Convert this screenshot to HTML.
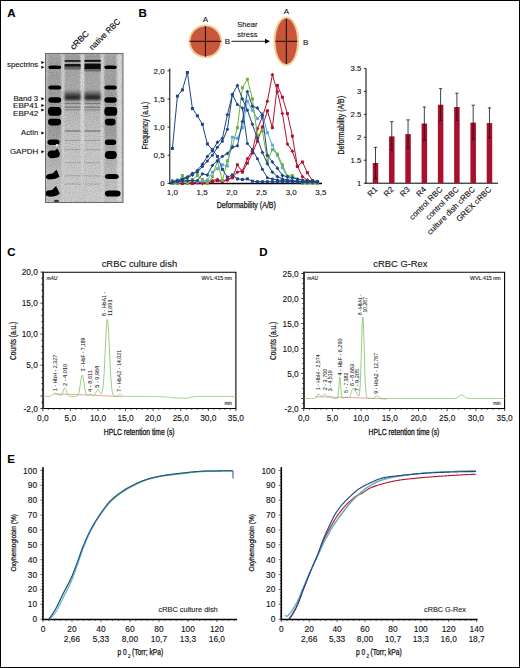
<!DOCTYPE html>
<html><head><meta charset="utf-8"><title>Figure</title>
<style>
html,body{margin:0;padding:0;background:#fff;}
#fig{position:relative;width:520px;height:668px;box-sizing:border-box;border:1px solid #000;overflow:hidden;background:#fff;}
svg{position:absolute;left:-1px;top:-1px;font-family:"Liberation Sans", sans-serif;}
</style></head>
<body><div id="fig">
<svg width="520" height="668" viewBox="0 0 520 668">
<defs>
<filter id="b1" x="-20%" y="-5%" width="140%" height="110%"><feGaussianBlur stdDeviation="0.8"/></filter>
<filter id="b2" x="-30%" y="-60%" width="160%" height="220%"><feGaussianBlur stdDeviation="0.55"/></filter>
<filter id="noise" x="0" y="0" width="100%" height="100%"><feTurbulence type="fractalNoise" baseFrequency="0.9" numOctaves="2" seed="3"/><feColorMatrix type="matrix" values="0 0 0 0 0  0 0 0 0 0  0 0 0 0 0  0 0 0 -1.6 1.0"/><feComposite in2="SourceGraphic" operator="in"/></filter>
<linearGradient id="ladg" x1="0" y1="0" x2="0" y2="1"><stop offset="0" stop-color="#a8a8a8"/><stop offset="0.5" stop-color="#a0a0a0"/><stop offset="0.66" stop-color="#b0b0b0"/><stop offset="0.8" stop-color="#c0c0c0"/><stop offset="1" stop-color="#c8c8c8"/></linearGradient>
<linearGradient id="laneg" x1="0" y1="0" x2="0" y2="1"><stop offset="0" stop-color="#a0a0a0"/><stop offset="0.08" stop-color="#a8a8a8"/><stop offset="0.25" stop-color="#b0b0b0"/><stop offset="0.4" stop-color="#bebebe"/><stop offset="0.6" stop-color="#cacaca"/><stop offset="1" stop-color="#d2d2d2"/></linearGradient>
<linearGradient id="stripg" x1="0" y1="0" x2="0" y2="1"><stop offset="0" stop-color="#e6e6e6"/><stop offset="0.6" stop-color="#e2e2e2"/><stop offset="1" stop-color="#d0d0d0"/></linearGradient>
<linearGradient id="b3g" x1="0" y1="0" x2="0" y2="1"><stop offset="0" stop-color="#a0a0a0" stop-opacity="0"/><stop offset="0.35" stop-color="#707070"/><stop offset="0.6" stop-color="#303030"/><stop offset="0.82" stop-color="#262626"/><stop offset="1" stop-color="#909090" stop-opacity="0.2"/></linearGradient>
</defs>
<text x="7.20" y="17.00" font-size="11.5" text-anchor="start" stroke="#000" stroke-width="0.12" font-weight="bold" >A</text>
<text x="138.40" y="17.00" font-size="11.5" text-anchor="start" stroke="#000" stroke-width="0.12" font-weight="bold" >B</text>
<text x="7.20" y="256.30" font-size="11.5" text-anchor="start" stroke="#000" stroke-width="0.12" font-weight="bold" >C</text>
<text x="259.30" y="256.30" font-size="11.5" text-anchor="start" stroke="#000" stroke-width="0.12" font-weight="bold" >D</text>
<text x="7.20" y="462.50" font-size="11.5" text-anchor="start" stroke="#000" stroke-width="0.12" font-weight="bold" >E</text>
<g>
<rect x="45.5" y="53.5" width="77.5" height="149" fill="#c4c4c4"/>
<rect x="47.6" y="54" width="14" height="148" fill="url(#ladg)" filter="url(#b1)"/>
<rect x="104" y="54" width="13" height="148" fill="url(#ladg)" filter="url(#b1)"/>
<rect x="64.3" y="54" width="16.2" height="148" fill="url(#laneg)" filter="url(#b1)"/>
<rect x="84.2" y="54" width="16.5" height="148" fill="url(#laneg)" filter="url(#b1)"/>
<rect x="61.9" y="54" width="2.2" height="148" fill="#dcdcdc" filter="url(#b1)"/>
<rect x="80.8" y="54" width="3.0" height="148" fill="url(#stripg)" filter="url(#b1)"/>
<rect x="100.9" y="54" width="2.6" height="148" fill="#dedede" filter="url(#b1)"/>
<rect x="117.3" y="54" width="4.5" height="148" fill="#dedede" filter="url(#b1)"/>
<rect x="48.3" y="65.40" width="12.90" height="3.6" rx="3" ry="1.80" fill="#030303" filter="url(#b2)"/>
<rect x="104.3" y="65.40" width="12.50" height="3.6" rx="3" ry="1.80" fill="#030303" filter="url(#b2)"/>
<rect x="48.3" y="85.40" width="12.90" height="4.0" rx="3" ry="2.00" fill="#030303" filter="url(#b2)"/>
<rect x="104.3" y="85.40" width="12.50" height="4.0" rx="3" ry="2.00" fill="#030303" filter="url(#b2)"/>
<rect x="48.3" y="97.30" width="12.90" height="5.4" rx="3" ry="2.70" fill="#030303" filter="url(#b2)"/>
<rect x="104.3" y="97.30" width="12.50" height="5.4" rx="3" ry="2.70" fill="#030303" filter="url(#b2)"/>
<rect x="48.0" y="107.10" width="13.40" height="8.6" rx="3" ry="4.30" fill="#030303" filter="url(#b2)"/>
<rect x="104.3" y="107.10" width="12.90" height="8.6" rx="3" ry="4.30" fill="#030303" filter="url(#b2)"/>
<rect x="48.0" y="118.80" width="13.00" height="6.6" rx="3" ry="3.30" fill="#030303" filter="url(#b2)"/>
<rect x="104.9" y="118.80" width="10.70" height="6.6" rx="3" ry="3.30" fill="#030303" filter="url(#b2)"/>
<rect x="47.5" y="139.60" width="12.00" height="5.4" rx="3" ry="2.70" fill="#030303" filter="url(#b2)"/>
<rect x="104.9" y="139.60" width="11.30" height="5.4" rx="3" ry="2.70" fill="#030303" filter="url(#b2)"/>
<rect x="104.9" y="150.90" width="12.00" height="8.0" rx="4" ry="4.00" fill="#030303" filter="url(#b2)"/>
<rect x="104.9" y="174.10" width="13.90" height="5.0" rx="4" ry="2.50" fill="#030303" filter="url(#b2)"/>
<rect x="104.9" y="190.40" width="15.70" height="6.2" rx="4" ry="3.10" fill="#030303" filter="url(#b2)"/>
<path d="M50,150.5 L55,150.5 L57.4,148.6 L60,153.5 L59,157 Q55,158.6 50,158 Q47.2,156.5 47.5,154 Q48,151 50,150.5 Z" fill="#030303" filter="url(#b2)"/>
<path d="M48,174.3 L52.5,173.5 L56.5,169.7 L59.6,176.8 Q56,179.4 50,179.5 Q46,179 45.9,177 Q46.2,175 48,174.3 Z" fill="#030303" filter="url(#b2)"/>
<path d="M47.5,190.5 L52,190 L56,186 L59.8,193.4 Q56,196.6 50,196.7 Q45.6,196.4 45.4,193.8 Q45.8,191.2 47.5,190.5 Z" fill="#030303" filter="url(#b2)"/>
<ellipse cx="56.5" cy="201" rx="2.5" ry="1.3" fill="#333" filter="url(#b2)"/>
<circle cx="56.9" cy="145.2" r="1.3" fill="#f4f4f4" filter="url(#b2)"/>
<rect x="64.6" y="60.1" width="16" height="1.7" fill="#1a1a1a" filter="url(#b2)"/>
<rect x="64.6" y="64.0" width="16" height="3.2" fill="#141414" filter="url(#b2)"/>
<rect x="64.6" y="66.5" width="16" height="3.0" fill="#6a6a6a" filter="url(#b2)"/>
<rect x="84.5" y="59.9" width="16.2" height="1.9" fill="#0a0a0a" filter="url(#b2)"/>
<rect x="84.5" y="63.6" width="16.2" height="6.2" fill="#080808" filter="url(#b2)"/>
<rect x="84.5" y="69" width="16.2" height="2.5" fill="#707070" filter="url(#b2)"/>
<rect x="64.6" y="88.5" width="16" height="13" fill="url(#b3g)" filter="url(#b1)"/>
<rect x="84.5" y="88.5" width="16.2" height="13" fill="url(#b3g)" filter="url(#b1)"/>
<rect x="64.6" y="102.85" width="16" height="1.3" fill="#7e7e7e" opacity="1" filter="url(#b2)"/>
<rect x="84.5" y="102.85" width="16" height="1.3" fill="#7e7e7e" opacity="1" filter="url(#b2)"/>
<rect x="64.6" y="106.55" width="16" height="1.3" fill="#7e7e7e" opacity="1" filter="url(#b2)"/>
<rect x="84.5" y="106.55" width="16" height="1.3" fill="#7e7e7e" opacity="1" filter="url(#b2)"/>
<rect x="64.6" y="109.15" width="16" height="1.3" fill="#939393" opacity="1" filter="url(#b2)"/>
<rect x="84.5" y="109.15" width="16" height="1.3" fill="#939393" opacity="1" filter="url(#b2)"/>
<rect x="64.6" y="130.45" width="16" height="1.1" fill="#6e6e6e" opacity="1" filter="url(#b2)"/>
<rect x="84.5" y="130.45" width="16" height="1.1" fill="#6e6e6e" opacity="1" filter="url(#b2)"/>
<rect x="64.6" y="139.95" width="16" height="0.9" fill="#a0a0a0" opacity="1" filter="url(#b2)"/>
<rect x="84.5" y="139.95" width="16" height="0.9" fill="#a0a0a0" opacity="1" filter="url(#b2)"/>
<rect x="64.6" y="149.15" width="16" height="0.9" fill="#a4a4a4" opacity="1" filter="url(#b2)"/>
<rect x="84.5" y="149.15" width="16" height="0.9" fill="#a4a4a4" opacity="1" filter="url(#b2)"/>
<rect x="64.6" y="162.25" width="16" height="0.9" fill="#a8a8a8" opacity="1" filter="url(#b2)"/>
<rect x="84.5" y="162.25" width="16" height="0.9" fill="#a8a8a8" opacity="1" filter="url(#b2)"/>
<rect x="64.6" y="175.35" width="16" height="0.9" fill="#acacac" opacity="1" filter="url(#b2)"/>
<rect x="84.5" y="175.35" width="16" height="0.9" fill="#acacac" opacity="1" filter="url(#b2)"/>
<rect x="64.6" y="183.55" width="16" height="0.9" fill="#a8a8a8" opacity="1" filter="url(#b2)"/>
<rect x="84.5" y="183.55" width="16" height="0.9" fill="#a8a8a8" opacity="1" filter="url(#b2)"/>
<rect x="45.5" y="53.5" width="77.5" height="149" filter="url(#noise)" opacity="0.22"/>
<rect x="45.5" y="53.5" width="77.5" height="149" fill="none" stroke="#6a6a6a" stroke-width="1"/>
</g>
<text x="38.20" y="67.30" font-size="8" text-anchor="end" stroke="#111" stroke-width="0.12" fill="#111" textLength="31.2" lengthAdjust="spacingAndGlyphs" >spectrins</text>
<text x="38.20" y="100.70" font-size="8" text-anchor="end" stroke="#111" stroke-width="0.12" fill="#111" textLength="24.8" lengthAdjust="spacingAndGlyphs" >Band 3</text>
<text x="38.20" y="108.00" font-size="8" text-anchor="end" stroke="#111" stroke-width="0.12" fill="#111" textLength="25.2" lengthAdjust="spacingAndGlyphs" >EBP41</text>
<text x="38.20" y="115.70" font-size="8" text-anchor="end" stroke="#111" stroke-width="0.12" fill="#111" textLength="25.2" lengthAdjust="spacingAndGlyphs" >EBP42</text>
<text x="38.20" y="134.80" font-size="8" text-anchor="end" stroke="#111" stroke-width="0.12" fill="#111" textLength="17.1" lengthAdjust="spacingAndGlyphs" >Actin</text>
<text x="38.20" y="153.60" font-size="8" text-anchor="end" stroke="#111" stroke-width="0.12" fill="#111" textLength="28.3" lengthAdjust="spacingAndGlyphs" >GAPDH</text>
<path d="M41.3,61.0 L44.5,62.5 L41.3,64.0 Z" fill="#000"/>
<path d="M41.3,65.7 L44.5,67.2 L41.3,68.7 Z" fill="#000"/>
<path d="M41.3,97.2 L44.5,98.7 L41.3,100.2 Z" fill="#000"/>
<path d="M41.3,104.1 L44.5,105.6 L41.3,107.1 Z" fill="#000"/>
<path d="M41.3,108.5 L44.5,110.0 L41.3,111.5 Z" fill="#000"/>
<path d="M41.3,131.4 L44.5,132.9 L41.3,134.4 Z" fill="#000"/>
<path d="M41.3,150.2 L44.5,151.7 L41.3,153.2 Z" fill="#000"/>
<text x="73.40" y="50.30" font-size="8.4" text-anchor="start" stroke="#000" stroke-width="0.12" textLength="22.8" lengthAdjust="spacingAndGlyphs" transform="rotate(-45 73.40 50.30)" >cRBC</text>
<text x="92.50" y="50.60" font-size="8.4" text-anchor="start" stroke="#000" stroke-width="0.12" textLength="40.2" lengthAdjust="spacingAndGlyphs" transform="rotate(-45 92.50 50.60)" >native RBC</text>
<circle cx="205.4" cy="41.3" r="16.8" fill="#f3d09a"/>
<circle cx="205.4" cy="41.3" r="14.9" fill="#c9553a"/>
<line x1="205.40" y1="26.00" x2="205.40" y2="56.80" stroke="#1a0a05" stroke-width="1" />
<line x1="189.50" y1="41.30" x2="221.30" y2="41.30" stroke="#1a0a05" stroke-width="1" />
<ellipse cx="286.3" cy="41.3" rx="12.9" ry="24.7" fill="#f3d09a"/>
<ellipse cx="286.3" cy="41.3" rx="10.8" ry="22.8" fill="#c9553a"/>
<line x1="286.30" y1="18.50" x2="286.30" y2="64.20" stroke="#1a0a05" stroke-width="1" />
<line x1="275.30" y1="41.30" x2="297.30" y2="41.30" stroke="#1a0a05" stroke-width="1" />
<text x="205.40" y="22.40" font-size="8" text-anchor="middle" stroke="#111" stroke-width="0.12" fill="#111" >A</text>
<text x="227.40" y="44.40" font-size="8" text-anchor="middle" stroke="#111" stroke-width="0.12" fill="#111" >B</text>
<text x="286.30" y="13.90" font-size="8" text-anchor="middle" stroke="#111" stroke-width="0.12" fill="#111" >A</text>
<text x="305.60" y="44.60" font-size="8" text-anchor="middle" stroke="#111" stroke-width="0.12" fill="#111" >B</text>
<text x="247.40" y="27.00" font-size="8" text-anchor="middle" stroke="#111" stroke-width="0.12" fill="#111" textLength="20.2" lengthAdjust="spacingAndGlyphs" >Shear</text>
<text x="247.40" y="36.60" font-size="8" text-anchor="middle" stroke="#111" stroke-width="0.12" fill="#111" textLength="20.2" lengthAdjust="spacingAndGlyphs" >stress</text>
<line x1="231.50" y1="41.30" x2="266.00" y2="41.30" stroke="#000" stroke-width="0.9" />
<path d="M265,38.8 L270,41.3 L265,43.8 Z" fill="#000"/>
<line x1="169.80" y1="68.50" x2="169.80" y2="184.00" stroke="#000" stroke-width="1" />
<line x1="169.30" y1="183.50" x2="322.00" y2="183.50" stroke="#000" stroke-width="1.3" />
<line x1="167.50" y1="183.40" x2="169.80" y2="183.40" stroke="#000" stroke-width="0.8" />
<text x="164.60" y="186.20" font-size="8" text-anchor="end" stroke="#111" stroke-width="0.12" fill="#111" >0</text>
<line x1="167.50" y1="155.25" x2="169.80" y2="155.25" stroke="#000" stroke-width="0.8" />
<text x="164.60" y="158.05" font-size="8" text-anchor="end" stroke="#111" stroke-width="0.12" fill="#111" >0,5</text>
<line x1="167.50" y1="127.10" x2="169.80" y2="127.10" stroke="#000" stroke-width="0.8" />
<text x="164.60" y="129.90" font-size="8" text-anchor="end" stroke="#111" stroke-width="0.12" fill="#111" >1,0</text>
<line x1="167.50" y1="98.95" x2="169.80" y2="98.95" stroke="#000" stroke-width="0.8" />
<text x="164.60" y="101.75" font-size="8" text-anchor="end" stroke="#111" stroke-width="0.12" fill="#111" >1,5</text>
<line x1="167.50" y1="70.80" x2="169.80" y2="70.80" stroke="#000" stroke-width="0.8" />
<text x="164.60" y="73.60" font-size="8" text-anchor="end" stroke="#111" stroke-width="0.12" fill="#111" >2,0</text>
<text x="172.40" y="194.80" font-size="8" text-anchor="middle" stroke="#111" stroke-width="0.12" fill="#111" >1,0</text>
<text x="202.10" y="194.80" font-size="8" text-anchor="middle" stroke="#111" stroke-width="0.12" fill="#111" >1,5</text>
<text x="231.80" y="194.80" font-size="8" text-anchor="middle" stroke="#111" stroke-width="0.12" fill="#111" >2,0</text>
<text x="261.50" y="194.80" font-size="8" text-anchor="middle" stroke="#111" stroke-width="0.12" fill="#111" >2,5</text>
<text x="291.20" y="194.80" font-size="8" text-anchor="middle" stroke="#111" stroke-width="0.12" fill="#111" >3,0</text>
<text x="320.90" y="194.80" font-size="8" text-anchor="middle" stroke="#111" stroke-width="0.12" fill="#111" >3,5</text>
<text x="246.30" y="208.40" font-size="8.2" text-anchor="middle" stroke="#111" stroke-width="0.25" fill="#111" textLength="59.3" lengthAdjust="spacingAndGlyphs" >Deformability (A/B)</text>
<text x="147.90" y="125.60" font-size="8.2" text-anchor="middle" stroke="#111" stroke-width="0.22" fill="#111" textLength="47.7" lengthAdjust="spacingAndGlyphs" transform="rotate(-90 147.90 125.60)" >Frequency (a.u.)</text>
<polyline points="172.40,183.40 177.40,183.40 182.40,183.40 187.40,183.40 192.40,183.40 197.40,182.27 202.40,182.27 207.40,182.84 212.40,181.71 217.40,180.59 222.40,181.71 227.40,180.02 232.40,177.77 237.40,164.82 242.40,172.14 247.40,163.13 252.40,153.00 257.40,141.18 262.40,127.10 267.40,110.77 272.40,127.66 277.40,85.44 282.40,97.26 287.40,113.59 292.40,136.11 297.40,166.51 302.40,162.01 307.40,172.70 312.40,180.59 317.40,181.71" fill="none" stroke="#b0122e" stroke-width="1.0" stroke-linejoin="round" />
<rect x="170.90" y="181.90" width="3.0" height="3.0" fill="#b0122e"/>
<rect x="175.90" y="181.90" width="3.0" height="3.0" fill="#b0122e"/>
<rect x="180.90" y="181.90" width="3.0" height="3.0" fill="#b0122e"/>
<rect x="185.90" y="181.90" width="3.0" height="3.0" fill="#b0122e"/>
<rect x="190.90" y="181.90" width="3.0" height="3.0" fill="#b0122e"/>
<rect x="195.90" y="180.77" width="3.0" height="3.0" fill="#b0122e"/>
<rect x="200.90" y="180.77" width="3.0" height="3.0" fill="#b0122e"/>
<rect x="205.90" y="181.34" width="3.0" height="3.0" fill="#b0122e"/>
<rect x="210.90" y="180.21" width="3.0" height="3.0" fill="#b0122e"/>
<rect x="215.90" y="179.09" width="3.0" height="3.0" fill="#b0122e"/>
<rect x="220.90" y="180.21" width="3.0" height="3.0" fill="#b0122e"/>
<rect x="225.90" y="178.52" width="3.0" height="3.0" fill="#b0122e"/>
<rect x="230.90" y="176.27" width="3.0" height="3.0" fill="#b0122e"/>
<rect x="235.90" y="163.32" width="3.0" height="3.0" fill="#b0122e"/>
<rect x="240.90" y="170.64" width="3.0" height="3.0" fill="#b0122e"/>
<rect x="245.90" y="161.63" width="3.0" height="3.0" fill="#b0122e"/>
<rect x="250.90" y="151.50" width="3.0" height="3.0" fill="#b0122e"/>
<rect x="255.90" y="139.68" width="3.0" height="3.0" fill="#b0122e"/>
<rect x="260.90" y="125.60" width="3.0" height="3.0" fill="#b0122e"/>
<rect x="265.90" y="109.27" width="3.0" height="3.0" fill="#b0122e"/>
<rect x="270.90" y="126.16" width="3.0" height="3.0" fill="#b0122e"/>
<rect x="275.90" y="83.94" width="3.0" height="3.0" fill="#b0122e"/>
<rect x="280.90" y="95.76" width="3.0" height="3.0" fill="#b0122e"/>
<rect x="285.90" y="112.09" width="3.0" height="3.0" fill="#b0122e"/>
<rect x="290.90" y="134.61" width="3.0" height="3.0" fill="#b0122e"/>
<rect x="295.90" y="165.01" width="3.0" height="3.0" fill="#b0122e"/>
<rect x="300.90" y="160.51" width="3.0" height="3.0" fill="#b0122e"/>
<rect x="305.90" y="171.20" width="3.0" height="3.0" fill="#b0122e"/>
<rect x="310.90" y="179.09" width="3.0" height="3.0" fill="#b0122e"/>
<rect x="315.90" y="180.21" width="3.0" height="3.0" fill="#b0122e"/>
<polyline points="172.40,183.40 177.40,183.40 182.40,183.40 187.40,183.40 192.40,182.84 197.40,182.84 202.40,183.40 207.40,183.40 212.40,180.59 217.40,179.46 222.40,181.15 227.40,179.46 232.40,177.21 237.40,172.14 242.40,171.01 247.40,158.63 252.40,151.31 257.40,128.79 262.40,116.97 267.40,101.20 272.40,74.74 277.40,91.63 282.40,113.59 287.40,143.99 292.40,151.31 297.40,165.95 302.40,176.64 307.40,180.02 312.40,181.71 317.40,182.27" fill="none" stroke="#b0122e" stroke-width="1.0" stroke-linejoin="round" />
<path d="M172.40,181.45 L174.35,183.40 L172.40,185.35 L170.45,183.40 Z" fill="#b0122e"/>
<path d="M177.40,181.45 L179.35,183.40 L177.40,185.35 L175.45,183.40 Z" fill="#b0122e"/>
<path d="M182.40,181.45 L184.35,183.40 L182.40,185.35 L180.45,183.40 Z" fill="#b0122e"/>
<path d="M187.40,181.45 L189.35,183.40 L187.40,185.35 L185.45,183.40 Z" fill="#b0122e"/>
<path d="M192.40,180.89 L194.35,182.84 L192.40,184.79 L190.45,182.84 Z" fill="#b0122e"/>
<path d="M197.40,180.89 L199.35,182.84 L197.40,184.79 L195.45,182.84 Z" fill="#b0122e"/>
<path d="M202.40,181.45 L204.35,183.40 L202.40,185.35 L200.45,183.40 Z" fill="#b0122e"/>
<path d="M207.40,181.45 L209.35,183.40 L207.40,185.35 L205.45,183.40 Z" fill="#b0122e"/>
<path d="M212.40,178.64 L214.35,180.59 L212.40,182.53 L210.45,180.59 Z" fill="#b0122e"/>
<path d="M217.40,177.51 L219.35,179.46 L217.40,181.41 L215.45,179.46 Z" fill="#b0122e"/>
<path d="M222.40,179.20 L224.35,181.15 L222.40,183.10 L220.45,181.15 Z" fill="#b0122e"/>
<path d="M227.40,177.51 L229.35,179.46 L227.40,181.41 L225.45,179.46 Z" fill="#b0122e"/>
<path d="M232.40,175.26 L234.35,177.21 L232.40,179.16 L230.45,177.21 Z" fill="#b0122e"/>
<path d="M237.40,170.19 L239.35,172.14 L237.40,174.09 L235.45,172.14 Z" fill="#b0122e"/>
<path d="M242.40,169.06 L244.35,171.01 L242.40,172.96 L240.45,171.01 Z" fill="#b0122e"/>
<path d="M247.40,156.68 L249.35,158.63 L247.40,160.58 L245.45,158.63 Z" fill="#b0122e"/>
<path d="M252.40,149.36 L254.35,151.31 L252.40,153.26 L250.45,151.31 Z" fill="#b0122e"/>
<path d="M257.40,126.84 L259.35,128.79 L257.40,130.74 L255.45,128.79 Z" fill="#b0122e"/>
<path d="M262.40,115.02 L264.35,116.97 L262.40,118.92 L260.45,116.97 Z" fill="#b0122e"/>
<path d="M267.40,99.25 L269.35,101.20 L267.40,103.15 L265.45,101.20 Z" fill="#b0122e"/>
<path d="M272.40,72.79 L274.35,74.74 L272.40,76.69 L270.45,74.74 Z" fill="#b0122e"/>
<path d="M277.40,89.68 L279.35,91.63 L277.40,93.58 L275.45,91.63 Z" fill="#b0122e"/>
<path d="M282.40,111.64 L284.35,113.59 L282.40,115.54 L280.45,113.59 Z" fill="#b0122e"/>
<path d="M287.40,142.04 L289.35,143.99 L287.40,145.94 L285.45,143.99 Z" fill="#b0122e"/>
<path d="M292.40,149.36 L294.35,151.31 L292.40,153.26 L290.45,151.31 Z" fill="#b0122e"/>
<path d="M297.40,164.00 L299.35,165.95 L297.40,167.90 L295.45,165.95 Z" fill="#b0122e"/>
<path d="M302.40,174.69 L304.35,176.64 L302.40,178.59 L300.45,176.64 Z" fill="#b0122e"/>
<path d="M307.40,178.07 L309.35,180.02 L307.40,181.97 L305.45,180.02 Z" fill="#b0122e"/>
<path d="M312.40,179.76 L314.35,181.71 L312.40,183.66 L310.45,181.71 Z" fill="#b0122e"/>
<path d="M317.40,180.32 L319.35,182.27 L317.40,184.22 L315.45,182.27 Z" fill="#b0122e"/>
<polyline points="172.40,180.59 177.40,180.02 182.40,181.15 187.40,181.71 192.40,180.59 197.40,181.71 202.40,181.15 207.40,180.02 212.40,172.14 217.40,168.76 222.40,164.82 227.40,165.95 232.40,137.23 237.40,138.36 242.40,127.66 247.40,101.20 252.40,110.21 257.40,118.66 262.40,113.59 267.40,132.73 272.40,145.12 277.40,155.25 282.40,167.64 287.40,176.64 292.40,181.15 297.40,181.71 302.40,182.27 307.40,182.27 312.40,182.27 317.40,182.27" fill="none" stroke="#5aa6e0" stroke-width="1.0" stroke-linejoin="round" />
<rect x="170.90" y="179.09" width="3.0" height="3.0" fill="#5aa6e0"/>
<rect x="175.90" y="178.52" width="3.0" height="3.0" fill="#5aa6e0"/>
<rect x="180.90" y="179.65" width="3.0" height="3.0" fill="#5aa6e0"/>
<rect x="185.90" y="180.21" width="3.0" height="3.0" fill="#5aa6e0"/>
<rect x="190.90" y="179.09" width="3.0" height="3.0" fill="#5aa6e0"/>
<rect x="195.90" y="180.21" width="3.0" height="3.0" fill="#5aa6e0"/>
<rect x="200.90" y="179.65" width="3.0" height="3.0" fill="#5aa6e0"/>
<rect x="205.90" y="178.52" width="3.0" height="3.0" fill="#5aa6e0"/>
<rect x="210.90" y="170.64" width="3.0" height="3.0" fill="#5aa6e0"/>
<rect x="215.90" y="167.26" width="3.0" height="3.0" fill="#5aa6e0"/>
<rect x="220.90" y="163.32" width="3.0" height="3.0" fill="#5aa6e0"/>
<rect x="225.90" y="164.45" width="3.0" height="3.0" fill="#5aa6e0"/>
<rect x="230.90" y="135.73" width="3.0" height="3.0" fill="#5aa6e0"/>
<rect x="235.90" y="136.86" width="3.0" height="3.0" fill="#5aa6e0"/>
<rect x="240.90" y="126.16" width="3.0" height="3.0" fill="#5aa6e0"/>
<rect x="245.90" y="99.70" width="3.0" height="3.0" fill="#5aa6e0"/>
<rect x="250.90" y="108.71" width="3.0" height="3.0" fill="#5aa6e0"/>
<rect x="255.90" y="117.16" width="3.0" height="3.0" fill="#5aa6e0"/>
<rect x="260.90" y="112.09" width="3.0" height="3.0" fill="#5aa6e0"/>
<rect x="265.90" y="131.23" width="3.0" height="3.0" fill="#5aa6e0"/>
<rect x="270.90" y="143.62" width="3.0" height="3.0" fill="#5aa6e0"/>
<rect x="275.90" y="153.75" width="3.0" height="3.0" fill="#5aa6e0"/>
<rect x="280.90" y="166.14" width="3.0" height="3.0" fill="#5aa6e0"/>
<rect x="285.90" y="175.14" width="3.0" height="3.0" fill="#5aa6e0"/>
<rect x="290.90" y="179.65" width="3.0" height="3.0" fill="#5aa6e0"/>
<rect x="295.90" y="180.21" width="3.0" height="3.0" fill="#5aa6e0"/>
<rect x="300.90" y="180.77" width="3.0" height="3.0" fill="#5aa6e0"/>
<rect x="305.90" y="180.77" width="3.0" height="3.0" fill="#5aa6e0"/>
<rect x="310.90" y="180.77" width="3.0" height="3.0" fill="#5aa6e0"/>
<rect x="315.90" y="180.77" width="3.0" height="3.0" fill="#5aa6e0"/>
<polyline points="172.40,183.40 177.40,183.40 182.40,175.52 187.40,183.40 192.40,179.46 197.40,175.52 202.40,179.46 207.40,183.40 212.40,176.64 217.40,160.88 222.40,180.59 227.40,160.88 232.40,146.24 237.40,127.66 242.40,87.69 247.40,79.25 252.40,98.95 257.40,135.55 262.40,131.04 267.40,160.88 272.40,149.62 277.40,154.12 282.40,164.82 287.40,176.08 292.40,175.52 297.40,179.46 302.40,183.40 307.40,183.40 312.40,183.40 317.40,183.40" fill="none" stroke="#6bb33a" stroke-width="1.0" stroke-linejoin="round" />
<rect x="170.90" y="181.90" width="3.0" height="3.0" fill="#6bb33a"/>
<rect x="175.90" y="181.90" width="3.0" height="3.0" fill="#6bb33a"/>
<rect x="180.90" y="174.02" width="3.0" height="3.0" fill="#6bb33a"/>
<rect x="185.90" y="181.90" width="3.0" height="3.0" fill="#6bb33a"/>
<rect x="190.90" y="177.96" width="3.0" height="3.0" fill="#6bb33a"/>
<rect x="195.90" y="174.02" width="3.0" height="3.0" fill="#6bb33a"/>
<rect x="200.90" y="177.96" width="3.0" height="3.0" fill="#6bb33a"/>
<rect x="205.90" y="181.90" width="3.0" height="3.0" fill="#6bb33a"/>
<rect x="210.90" y="175.14" width="3.0" height="3.0" fill="#6bb33a"/>
<rect x="215.90" y="159.38" width="3.0" height="3.0" fill="#6bb33a"/>
<rect x="220.90" y="179.09" width="3.0" height="3.0" fill="#6bb33a"/>
<rect x="225.90" y="159.38" width="3.0" height="3.0" fill="#6bb33a"/>
<rect x="230.90" y="144.74" width="3.0" height="3.0" fill="#6bb33a"/>
<rect x="235.90" y="126.16" width="3.0" height="3.0" fill="#6bb33a"/>
<rect x="240.90" y="86.19" width="3.0" height="3.0" fill="#6bb33a"/>
<rect x="245.90" y="77.75" width="3.0" height="3.0" fill="#6bb33a"/>
<rect x="250.90" y="97.45" width="3.0" height="3.0" fill="#6bb33a"/>
<rect x="255.90" y="134.05" width="3.0" height="3.0" fill="#6bb33a"/>
<rect x="260.90" y="129.54" width="3.0" height="3.0" fill="#6bb33a"/>
<rect x="265.90" y="159.38" width="3.0" height="3.0" fill="#6bb33a"/>
<rect x="270.90" y="148.12" width="3.0" height="3.0" fill="#6bb33a"/>
<rect x="275.90" y="152.62" width="3.0" height="3.0" fill="#6bb33a"/>
<rect x="280.90" y="163.32" width="3.0" height="3.0" fill="#6bb33a"/>
<rect x="285.90" y="174.58" width="3.0" height="3.0" fill="#6bb33a"/>
<rect x="290.90" y="174.02" width="3.0" height="3.0" fill="#6bb33a"/>
<rect x="295.90" y="177.96" width="3.0" height="3.0" fill="#6bb33a"/>
<rect x="300.90" y="181.90" width="3.0" height="3.0" fill="#6bb33a"/>
<rect x="305.90" y="181.90" width="3.0" height="3.0" fill="#6bb33a"/>
<rect x="310.90" y="181.90" width="3.0" height="3.0" fill="#6bb33a"/>
<rect x="315.90" y="181.90" width="3.0" height="3.0" fill="#6bb33a"/>
<polyline points="172.40,182.27 177.40,181.71 182.40,181.15 187.40,180.59 192.40,180.59 197.40,180.59 202.40,173.83 207.40,174.96 212.40,165.38 217.40,160.88 222.40,156.38 227.40,153.56 232.40,147.37 237.40,145.68 242.40,121.47 247.40,91.63 252.40,106.27 257.40,107.96 262.40,115.28 267.40,155.25 272.40,162.01 277.40,168.20 282.40,175.52 287.40,176.64 292.40,177.77 297.40,178.90 302.40,180.02 307.40,180.59 312.40,181.15 317.40,181.71" fill="none" stroke="#1d4584" stroke-width="1.0" stroke-linejoin="round" />
<path d="M172.40,180.32 L174.35,182.27 L172.40,184.22 L170.45,182.27 Z" fill="#1d4584"/>
<path d="M177.40,179.76 L179.35,181.71 L177.40,183.66 L175.45,181.71 Z" fill="#1d4584"/>
<path d="M182.40,179.20 L184.35,181.15 L182.40,183.10 L180.45,181.15 Z" fill="#1d4584"/>
<path d="M187.40,178.64 L189.35,180.59 L187.40,182.53 L185.45,180.59 Z" fill="#1d4584"/>
<path d="M192.40,178.64 L194.35,180.59 L192.40,182.53 L190.45,180.59 Z" fill="#1d4584"/>
<path d="M197.40,178.64 L199.35,180.59 L197.40,182.53 L195.45,180.59 Z" fill="#1d4584"/>
<path d="M202.40,171.88 L204.35,173.83 L202.40,175.78 L200.45,173.83 Z" fill="#1d4584"/>
<path d="M207.40,173.01 L209.35,174.96 L207.40,176.91 L205.45,174.96 Z" fill="#1d4584"/>
<path d="M212.40,163.43 L214.35,165.38 L212.40,167.33 L210.45,165.38 Z" fill="#1d4584"/>
<path d="M217.40,158.93 L219.35,160.88 L217.40,162.83 L215.45,160.88 Z" fill="#1d4584"/>
<path d="M222.40,154.43 L224.35,156.38 L222.40,158.33 L220.45,156.38 Z" fill="#1d4584"/>
<path d="M227.40,151.61 L229.35,153.56 L227.40,155.51 L225.45,153.56 Z" fill="#1d4584"/>
<path d="M232.40,145.42 L234.35,147.37 L232.40,149.32 L230.45,147.37 Z" fill="#1d4584"/>
<path d="M237.40,143.73 L239.35,145.68 L237.40,147.63 L235.45,145.68 Z" fill="#1d4584"/>
<path d="M242.40,119.52 L244.35,121.47 L242.40,123.42 L240.45,121.47 Z" fill="#1d4584"/>
<path d="M247.40,89.68 L249.35,91.63 L247.40,93.58 L245.45,91.63 Z" fill="#1d4584"/>
<path d="M252.40,104.32 L254.35,106.27 L252.40,108.22 L250.45,106.27 Z" fill="#1d4584"/>
<path d="M257.40,106.01 L259.35,107.96 L257.40,109.91 L255.45,107.96 Z" fill="#1d4584"/>
<path d="M262.40,113.33 L264.35,115.28 L262.40,117.23 L260.45,115.28 Z" fill="#1d4584"/>
<path d="M267.40,153.30 L269.35,155.25 L267.40,157.20 L265.45,155.25 Z" fill="#1d4584"/>
<path d="M272.40,160.06 L274.35,162.01 L272.40,163.96 L270.45,162.01 Z" fill="#1d4584"/>
<path d="M277.40,166.25 L279.35,168.20 L277.40,170.15 L275.45,168.20 Z" fill="#1d4584"/>
<path d="M282.40,173.57 L284.35,175.52 L282.40,177.47 L280.45,175.52 Z" fill="#1d4584"/>
<path d="M287.40,174.69 L289.35,176.64 L287.40,178.59 L285.45,176.64 Z" fill="#1d4584"/>
<path d="M292.40,175.82 L294.35,177.77 L292.40,179.72 L290.45,177.77 Z" fill="#1d4584"/>
<path d="M297.40,176.95 L299.35,178.90 L297.40,180.85 L295.45,178.90 Z" fill="#1d4584"/>
<path d="M302.40,178.07 L304.35,180.02 L302.40,181.97 L300.45,180.02 Z" fill="#1d4584"/>
<path d="M307.40,178.64 L309.35,180.59 L307.40,182.53 L305.45,180.59 Z" fill="#1d4584"/>
<path d="M312.40,179.20 L314.35,181.15 L312.40,183.10 L310.45,181.15 Z" fill="#1d4584"/>
<path d="M317.40,179.76 L319.35,181.71 L317.40,183.66 L315.45,181.71 Z" fill="#1d4584"/>
<polyline points="172.40,181.71 177.40,180.59 182.40,179.46 187.40,177.77 192.40,174.96 197.40,170.45 202.40,164.26 207.40,156.38 212.40,150.75 217.40,142.30 222.40,138.36 227.40,114.71 232.40,94.45 237.40,85.44 242.40,98.95 247.40,110.21 252.40,124.28 257.40,138.36 262.40,152.44 267.40,163.69 272.40,172.14 277.40,176.64 282.40,178.90 287.40,180.02 292.40,180.59 297.40,181.15 302.40,181.71 307.40,181.71 312.40,181.71 317.40,181.71" fill="none" stroke="#1d4584" stroke-width="1.0" stroke-linejoin="round" />
<path d="M172.40,179.76 L174.35,181.71 L172.40,183.66 L170.45,181.71 Z" fill="#1d4584"/>
<path d="M177.40,178.64 L179.35,180.59 L177.40,182.53 L175.45,180.59 Z" fill="#1d4584"/>
<path d="M182.40,177.51 L184.35,179.46 L182.40,181.41 L180.45,179.46 Z" fill="#1d4584"/>
<path d="M187.40,175.82 L189.35,177.77 L187.40,179.72 L185.45,177.77 Z" fill="#1d4584"/>
<path d="M192.40,173.01 L194.35,174.96 L192.40,176.91 L190.45,174.96 Z" fill="#1d4584"/>
<path d="M197.40,168.50 L199.35,170.45 L197.40,172.40 L195.45,170.45 Z" fill="#1d4584"/>
<path d="M202.40,162.31 L204.35,164.26 L202.40,166.21 L200.45,164.26 Z" fill="#1d4584"/>
<path d="M207.40,154.43 L209.35,156.38 L207.40,158.33 L205.45,156.38 Z" fill="#1d4584"/>
<path d="M212.40,148.80 L214.35,150.75 L212.40,152.70 L210.45,150.75 Z" fill="#1d4584"/>
<path d="M217.40,140.35 L219.35,142.30 L217.40,144.25 L215.45,142.30 Z" fill="#1d4584"/>
<path d="M222.40,136.41 L224.35,138.36 L222.40,140.31 L220.45,138.36 Z" fill="#1d4584"/>
<path d="M227.40,112.76 L229.35,114.71 L227.40,116.66 L225.45,114.71 Z" fill="#1d4584"/>
<path d="M232.40,92.50 L234.35,94.45 L232.40,96.40 L230.45,94.45 Z" fill="#1d4584"/>
<path d="M237.40,83.49 L239.35,85.44 L237.40,87.39 L235.45,85.44 Z" fill="#1d4584"/>
<path d="M242.40,97.00 L244.35,98.95 L242.40,100.90 L240.45,98.95 Z" fill="#1d4584"/>
<path d="M247.40,108.26 L249.35,110.21 L247.40,112.16 L245.45,110.21 Z" fill="#1d4584"/>
<path d="M252.40,122.33 L254.35,124.28 L252.40,126.23 L250.45,124.28 Z" fill="#1d4584"/>
<path d="M257.40,136.41 L259.35,138.36 L257.40,140.31 L255.45,138.36 Z" fill="#1d4584"/>
<path d="M262.40,150.49 L264.35,152.44 L262.40,154.38 L260.45,152.44 Z" fill="#1d4584"/>
<path d="M267.40,161.75 L269.35,163.69 L267.40,165.64 L265.45,163.69 Z" fill="#1d4584"/>
<path d="M272.40,170.19 L274.35,172.14 L272.40,174.09 L270.45,172.14 Z" fill="#1d4584"/>
<path d="M277.40,174.69 L279.35,176.64 L277.40,178.59 L275.45,176.64 Z" fill="#1d4584"/>
<path d="M282.40,176.95 L284.35,178.90 L282.40,180.85 L280.45,178.90 Z" fill="#1d4584"/>
<path d="M287.40,178.07 L289.35,180.02 L287.40,181.97 L285.45,180.02 Z" fill="#1d4584"/>
<path d="M292.40,178.64 L294.35,180.59 L292.40,182.53 L290.45,180.59 Z" fill="#1d4584"/>
<path d="M297.40,179.20 L299.35,181.15 L297.40,183.10 L295.45,181.15 Z" fill="#1d4584"/>
<path d="M302.40,179.76 L304.35,181.71 L302.40,183.66 L300.45,181.71 Z" fill="#1d4584"/>
<path d="M307.40,179.76 L309.35,181.71 L307.40,183.66 L305.45,181.71 Z" fill="#1d4584"/>
<path d="M312.40,179.76 L314.35,181.71 L312.40,183.66 L310.45,181.71 Z" fill="#1d4584"/>
<path d="M317.40,179.76 L319.35,181.71 L317.40,183.66 L315.45,181.71 Z" fill="#1d4584"/>
<polyline points="172.40,182.27 177.40,181.15 182.40,178.90 187.40,176.64 192.40,173.27 197.40,172.14 202.40,166.51 207.40,160.88 212.40,155.25 217.40,147.37 222.40,141.18 227.40,129.35 232.40,94.45 237.40,104.58 242.40,107.96 247.40,143.43 252.40,149.62 257.40,158.63 262.40,169.33 267.40,177.77 272.40,178.90 277.40,180.02 282.40,180.59 287.40,181.15 292.40,181.71 297.40,181.71 302.40,182.27 307.40,182.27 312.40,182.27 317.40,182.27" fill="none" stroke="#1d4584" stroke-width="1.0" stroke-linejoin="round" />
<circle cx="172.40" cy="182.27" r="1.5" fill="#1d4584"/>
<circle cx="177.40" cy="181.15" r="1.5" fill="#1d4584"/>
<circle cx="182.40" cy="178.90" r="1.5" fill="#1d4584"/>
<circle cx="187.40" cy="176.64" r="1.5" fill="#1d4584"/>
<circle cx="192.40" cy="173.27" r="1.5" fill="#1d4584"/>
<circle cx="197.40" cy="172.14" r="1.5" fill="#1d4584"/>
<circle cx="202.40" cy="166.51" r="1.5" fill="#1d4584"/>
<circle cx="207.40" cy="160.88" r="1.5" fill="#1d4584"/>
<circle cx="212.40" cy="155.25" r="1.5" fill="#1d4584"/>
<circle cx="217.40" cy="147.37" r="1.5" fill="#1d4584"/>
<circle cx="222.40" cy="141.18" r="1.5" fill="#1d4584"/>
<circle cx="227.40" cy="129.35" r="1.5" fill="#1d4584"/>
<circle cx="232.40" cy="94.45" r="1.5" fill="#1d4584"/>
<circle cx="237.40" cy="104.58" r="1.5" fill="#1d4584"/>
<circle cx="242.40" cy="107.96" r="1.5" fill="#1d4584"/>
<circle cx="247.40" cy="143.43" r="1.5" fill="#1d4584"/>
<circle cx="252.40" cy="149.62" r="1.5" fill="#1d4584"/>
<circle cx="257.40" cy="158.63" r="1.5" fill="#1d4584"/>
<circle cx="262.40" cy="169.33" r="1.5" fill="#1d4584"/>
<circle cx="267.40" cy="177.77" r="1.5" fill="#1d4584"/>
<circle cx="272.40" cy="178.90" r="1.5" fill="#1d4584"/>
<circle cx="277.40" cy="180.02" r="1.5" fill="#1d4584"/>
<circle cx="282.40" cy="180.59" r="1.5" fill="#1d4584"/>
<circle cx="287.40" cy="181.15" r="1.5" fill="#1d4584"/>
<circle cx="292.40" cy="181.71" r="1.5" fill="#1d4584"/>
<circle cx="297.40" cy="181.71" r="1.5" fill="#1d4584"/>
<circle cx="302.40" cy="182.27" r="1.5" fill="#1d4584"/>
<circle cx="307.40" cy="182.27" r="1.5" fill="#1d4584"/>
<circle cx="312.40" cy="182.27" r="1.5" fill="#1d4584"/>
<circle cx="317.40" cy="182.27" r="1.5" fill="#1d4584"/>
<polyline points="172.40,148.49 177.40,96.14 182.40,89.94 187.40,72.49 192.40,108.52 197.40,115.84 202.40,124.28 207.40,143.99 212.40,149.62 217.40,156.38 222.40,169.33 227.40,177.21 232.40,174.96 237.40,178.90 242.40,179.46 247.40,178.90 252.40,181.15 257.40,181.71 262.40,181.71 267.40,181.71 272.40,181.71 277.40,181.71 282.40,181.71 287.40,181.71 292.40,181.71 297.40,181.71 302.40,181.71 307.40,181.71 312.40,181.71 317.40,181.71" fill="none" stroke="#1d4584" stroke-width="1.0" stroke-linejoin="round" />
<rect x="170.90" y="146.99" width="3.0" height="3.0" fill="#1d4584"/>
<rect x="175.90" y="94.64" width="3.0" height="3.0" fill="#1d4584"/>
<rect x="180.90" y="88.44" width="3.0" height="3.0" fill="#1d4584"/>
<rect x="185.90" y="70.99" width="3.0" height="3.0" fill="#1d4584"/>
<rect x="190.90" y="107.02" width="3.0" height="3.0" fill="#1d4584"/>
<rect x="195.90" y="114.34" width="3.0" height="3.0" fill="#1d4584"/>
<rect x="200.90" y="122.78" width="3.0" height="3.0" fill="#1d4584"/>
<rect x="205.90" y="142.49" width="3.0" height="3.0" fill="#1d4584"/>
<rect x="210.90" y="148.12" width="3.0" height="3.0" fill="#1d4584"/>
<rect x="215.90" y="154.88" width="3.0" height="3.0" fill="#1d4584"/>
<rect x="220.90" y="167.83" width="3.0" height="3.0" fill="#1d4584"/>
<rect x="225.90" y="175.71" width="3.0" height="3.0" fill="#1d4584"/>
<rect x="230.90" y="173.46" width="3.0" height="3.0" fill="#1d4584"/>
<rect x="235.90" y="177.40" width="3.0" height="3.0" fill="#1d4584"/>
<rect x="240.90" y="177.96" width="3.0" height="3.0" fill="#1d4584"/>
<rect x="245.90" y="177.40" width="3.0" height="3.0" fill="#1d4584"/>
<rect x="250.90" y="179.65" width="3.0" height="3.0" fill="#1d4584"/>
<rect x="255.90" y="180.21" width="3.0" height="3.0" fill="#1d4584"/>
<rect x="260.90" y="180.21" width="3.0" height="3.0" fill="#1d4584"/>
<rect x="265.90" y="180.21" width="3.0" height="3.0" fill="#1d4584"/>
<rect x="270.90" y="180.21" width="3.0" height="3.0" fill="#1d4584"/>
<rect x="275.90" y="180.21" width="3.0" height="3.0" fill="#1d4584"/>
<rect x="280.90" y="180.21" width="3.0" height="3.0" fill="#1d4584"/>
<rect x="285.90" y="180.21" width="3.0" height="3.0" fill="#1d4584"/>
<rect x="290.90" y="180.21" width="3.0" height="3.0" fill="#1d4584"/>
<rect x="295.90" y="180.21" width="3.0" height="3.0" fill="#1d4584"/>
<rect x="300.90" y="180.21" width="3.0" height="3.0" fill="#1d4584"/>
<rect x="305.90" y="180.21" width="3.0" height="3.0" fill="#1d4584"/>
<rect x="310.90" y="180.21" width="3.0" height="3.0" fill="#1d4584"/>
<rect x="315.90" y="180.21" width="3.0" height="3.0" fill="#1d4584"/>
<line x1="366.00" y1="68.50" x2="366.00" y2="183.70" stroke="#000" stroke-width="1" />
<line x1="365.50" y1="183.20" x2="498.00" y2="183.20" stroke="#000" stroke-width="1" />
<line x1="363.80" y1="183.20" x2="366.00" y2="183.20" stroke="#000" stroke-width="0.8" />
<text x="361.20" y="185.90" font-size="7.7" text-anchor="end" stroke="#111" stroke-width="0.12" fill="#111" >1</text>
<line x1="363.80" y1="160.25" x2="366.00" y2="160.25" stroke="#000" stroke-width="0.8" />
<text x="361.20" y="162.95" font-size="7.7" text-anchor="end" stroke="#111" stroke-width="0.12" fill="#111" >1.5</text>
<line x1="363.80" y1="137.30" x2="366.00" y2="137.30" stroke="#000" stroke-width="0.8" />
<text x="361.20" y="140.00" font-size="7.7" text-anchor="end" stroke="#111" stroke-width="0.12" fill="#111" >2</text>
<line x1="363.80" y1="114.35" x2="366.00" y2="114.35" stroke="#000" stroke-width="0.8" />
<text x="361.20" y="117.05" font-size="7.7" text-anchor="end" stroke="#111" stroke-width="0.12" fill="#111" >2.5</text>
<line x1="363.80" y1="91.40" x2="366.00" y2="91.40" stroke="#000" stroke-width="0.8" />
<text x="361.20" y="94.10" font-size="7.7" text-anchor="end" stroke="#111" stroke-width="0.12" fill="#111" >3</text>
<line x1="363.80" y1="68.45" x2="366.00" y2="68.45" stroke="#000" stroke-width="0.8" />
<text x="361.20" y="71.15" font-size="7.7" text-anchor="end" stroke="#111" stroke-width="0.12" fill="#111" >3.5</text>
<text x="343.60" y="125.20" font-size="8.2" text-anchor="middle" stroke="#111" stroke-width="0.22" fill="#111" textLength="58.4" lengthAdjust="spacingAndGlyphs" transform="rotate(-90 343.60 125.20)" >Deformability (A/B)</text>
<rect x="372.75" y="163.00" width="5.5" height="20.20" fill="#a8102e"/>
<line x1="375.50" y1="147.40" x2="375.50" y2="178.61" stroke="#111" stroke-width="0.8" />
<line x1="373.90" y1="147.40" x2="377.10" y2="147.40" stroke="#111" stroke-width="0.8" />
<line x1="373.90" y1="178.61" x2="377.10" y2="178.61" stroke="#111" stroke-width="0.8" />
<text x="377.90" y="189.90" font-size="8" text-anchor="end" stroke="#111" stroke-width="0.12" fill="#111" transform="rotate(-45 377.90 189.90)" >R1</text>
<rect x="389.03" y="136.38" width="5.5" height="46.82" fill="#a8102e"/>
<line x1="391.78" y1="121.69" x2="391.78" y2="150.15" stroke="#111" stroke-width="0.8" />
<line x1="390.18" y1="121.69" x2="393.38" y2="121.69" stroke="#111" stroke-width="0.8" />
<line x1="390.18" y1="150.15" x2="393.38" y2="150.15" stroke="#111" stroke-width="0.8" />
<text x="394.18" y="189.90" font-size="8" text-anchor="end" stroke="#111" stroke-width="0.12" fill="#111" transform="rotate(-45 394.18 189.90)" >R2</text>
<rect x="405.31" y="134.09" width="5.5" height="49.11" fill="#a8102e"/>
<line x1="408.06" y1="119.86" x2="408.06" y2="147.86" stroke="#111" stroke-width="0.8" />
<line x1="406.46" y1="119.86" x2="409.66" y2="119.86" stroke="#111" stroke-width="0.8" />
<line x1="406.46" y1="147.86" x2="409.66" y2="147.86" stroke="#111" stroke-width="0.8" />
<text x="410.46" y="189.90" font-size="8" text-anchor="end" stroke="#111" stroke-width="0.12" fill="#111" transform="rotate(-45 410.46 189.90)" >R3</text>
<rect x="421.59" y="123.53" width="5.5" height="59.67" fill="#a8102e"/>
<line x1="424.34" y1="107.01" x2="424.34" y2="140.05" stroke="#111" stroke-width="0.8" />
<line x1="422.74" y1="107.01" x2="425.94" y2="107.01" stroke="#111" stroke-width="0.8" />
<line x1="422.74" y1="140.05" x2="425.94" y2="140.05" stroke="#111" stroke-width="0.8" />
<text x="426.74" y="189.90" font-size="8" text-anchor="end" stroke="#111" stroke-width="0.12" fill="#111" transform="rotate(-45 426.74 189.90)" >R4</text>
<rect x="437.87" y="104.71" width="5.5" height="78.49" fill="#a8102e"/>
<line x1="440.62" y1="88.65" x2="440.62" y2="120.32" stroke="#111" stroke-width="0.8" />
<line x1="439.02" y1="88.65" x2="442.22" y2="88.65" stroke="#111" stroke-width="0.8" />
<line x1="439.02" y1="120.32" x2="442.22" y2="120.32" stroke="#111" stroke-width="0.8" />
<text x="443.02" y="189.90" font-size="8" text-anchor="end" stroke="#111" stroke-width="0.12" fill="#111" transform="rotate(-45 443.02 189.90)" >control RBC</text>
<rect x="454.15" y="107.01" width="5.5" height="76.19" fill="#a8102e"/>
<line x1="456.90" y1="93.24" x2="456.90" y2="120.32" stroke="#111" stroke-width="0.8" />
<line x1="455.30" y1="93.24" x2="458.50" y2="93.24" stroke="#111" stroke-width="0.8" />
<line x1="455.30" y1="120.32" x2="458.50" y2="120.32" stroke="#111" stroke-width="0.8" />
<text x="459.30" y="189.90" font-size="8" text-anchor="end" stroke="#111" stroke-width="0.12" fill="#111" transform="rotate(-45 459.30 189.90)" >control RBC</text>
<rect x="470.43" y="122.61" width="5.5" height="60.59" fill="#a8102e"/>
<line x1="473.18" y1="105.17" x2="473.18" y2="139.14" stroke="#111" stroke-width="0.8" />
<line x1="471.58" y1="105.17" x2="474.78" y2="105.17" stroke="#111" stroke-width="0.8" />
<line x1="471.58" y1="139.14" x2="474.78" y2="139.14" stroke="#111" stroke-width="0.8" />
<text x="475.58" y="189.90" font-size="8" text-anchor="end" stroke="#111" stroke-width="0.12" fill="#111" transform="rotate(-45 475.58 189.90)" >culture dish cRBC</text>
<rect x="486.71" y="123.07" width="5.5" height="60.13" fill="#a8102e"/>
<line x1="489.46" y1="107.92" x2="489.46" y2="137.76" stroke="#111" stroke-width="0.8" />
<line x1="487.86" y1="107.92" x2="491.06" y2="107.92" stroke="#111" stroke-width="0.8" />
<line x1="487.86" y1="137.76" x2="491.06" y2="137.76" stroke="#111" stroke-width="0.8" />
<text x="491.86" y="189.90" font-size="8" text-anchor="end" stroke="#111" stroke-width="0.12" fill="#111" transform="rotate(-45 491.86 189.90)" >GREX cRBC</text>
<path d="M42.8,272.2 L235.9,272.2 L235.9,408.5 L42.8,408.5" fill="none" stroke="#000" stroke-width="1.1"/>
<line x1="43.10" y1="271.70" x2="43.10" y2="409.00" stroke="#333" stroke-width="1.9" />
<line x1="40.30" y1="408.50" x2="42.80" y2="408.50" stroke="#000" stroke-width="0.7" />
<line x1="41.30" y1="402.30" x2="42.80" y2="402.30" stroke="#000" stroke-width="0.7" />
<line x1="40.30" y1="396.10" x2="42.80" y2="396.10" stroke="#000" stroke-width="0.7" />
<line x1="41.30" y1="389.90" x2="42.80" y2="389.90" stroke="#000" stroke-width="0.7" />
<line x1="41.30" y1="383.70" x2="42.80" y2="383.70" stroke="#000" stroke-width="0.7" />
<line x1="41.30" y1="377.50" x2="42.80" y2="377.50" stroke="#000" stroke-width="0.7" />
<line x1="41.30" y1="371.30" x2="42.80" y2="371.30" stroke="#000" stroke-width="0.7" />
<line x1="40.30" y1="365.10" x2="42.80" y2="365.10" stroke="#000" stroke-width="0.7" />
<line x1="41.30" y1="358.90" x2="42.80" y2="358.90" stroke="#000" stroke-width="0.7" />
<line x1="41.30" y1="352.70" x2="42.80" y2="352.70" stroke="#000" stroke-width="0.7" />
<line x1="41.30" y1="346.50" x2="42.80" y2="346.50" stroke="#000" stroke-width="0.7" />
<line x1="41.30" y1="340.30" x2="42.80" y2="340.30" stroke="#000" stroke-width="0.7" />
<line x1="40.30" y1="334.10" x2="42.80" y2="334.10" stroke="#000" stroke-width="0.7" />
<line x1="41.30" y1="327.90" x2="42.80" y2="327.90" stroke="#000" stroke-width="0.7" />
<line x1="41.30" y1="321.70" x2="42.80" y2="321.70" stroke="#000" stroke-width="0.7" />
<line x1="41.30" y1="315.50" x2="42.80" y2="315.50" stroke="#000" stroke-width="0.7" />
<line x1="41.30" y1="309.30" x2="42.80" y2="309.30" stroke="#000" stroke-width="0.7" />
<line x1="40.30" y1="303.10" x2="42.80" y2="303.10" stroke="#000" stroke-width="0.7" />
<line x1="41.30" y1="296.90" x2="42.80" y2="296.90" stroke="#000" stroke-width="0.7" />
<line x1="41.30" y1="290.70" x2="42.80" y2="290.70" stroke="#000" stroke-width="0.7" />
<line x1="41.30" y1="284.50" x2="42.80" y2="284.50" stroke="#000" stroke-width="0.7" />
<line x1="41.30" y1="278.30" x2="42.80" y2="278.30" stroke="#000" stroke-width="0.7" />
<line x1="40.30" y1="272.10" x2="42.80" y2="272.10" stroke="#000" stroke-width="0.7" />
<text x="37.80" y="411.50" font-size="8.3" text-anchor="end" stroke="#111" stroke-width="0.12" fill="#111" >-2,0</text>
<text x="37.80" y="368.10" font-size="8.3" text-anchor="end" stroke="#111" stroke-width="0.12" fill="#111" >5,0</text>
<text x="37.80" y="337.10" font-size="8.3" text-anchor="end" stroke="#111" stroke-width="0.12" fill="#111" >10,0</text>
<text x="37.80" y="306.10" font-size="8.3" text-anchor="end" stroke="#111" stroke-width="0.12" fill="#111" >15,0</text>
<text x="37.80" y="275.10" font-size="8.3" text-anchor="end" stroke="#111" stroke-width="0.12" fill="#111" >20,0</text>
<line x1="42.80" y1="408.50" x2="42.80" y2="411.10" stroke="#000" stroke-width="0.7" />
<line x1="48.32" y1="408.50" x2="48.32" y2="409.90" stroke="#000" stroke-width="0.7" />
<line x1="53.83" y1="408.50" x2="53.83" y2="409.90" stroke="#000" stroke-width="0.7" />
<line x1="59.35" y1="408.50" x2="59.35" y2="409.90" stroke="#000" stroke-width="0.7" />
<line x1="64.87" y1="408.50" x2="64.87" y2="409.90" stroke="#000" stroke-width="0.7" />
<line x1="70.39" y1="408.50" x2="70.39" y2="411.10" stroke="#000" stroke-width="0.7" />
<line x1="75.90" y1="408.50" x2="75.90" y2="409.90" stroke="#000" stroke-width="0.7" />
<line x1="81.42" y1="408.50" x2="81.42" y2="409.90" stroke="#000" stroke-width="0.7" />
<line x1="86.94" y1="408.50" x2="86.94" y2="409.90" stroke="#000" stroke-width="0.7" />
<line x1="92.45" y1="408.50" x2="92.45" y2="409.90" stroke="#000" stroke-width="0.7" />
<line x1="97.97" y1="408.50" x2="97.97" y2="411.10" stroke="#000" stroke-width="0.7" />
<line x1="103.49" y1="408.50" x2="103.49" y2="409.90" stroke="#000" stroke-width="0.7" />
<line x1="109.01" y1="408.50" x2="109.01" y2="409.90" stroke="#000" stroke-width="0.7" />
<line x1="114.52" y1="408.50" x2="114.52" y2="409.90" stroke="#000" stroke-width="0.7" />
<line x1="120.04" y1="408.50" x2="120.04" y2="409.90" stroke="#000" stroke-width="0.7" />
<line x1="125.56" y1="408.50" x2="125.56" y2="411.10" stroke="#000" stroke-width="0.7" />
<line x1="131.07" y1="408.50" x2="131.07" y2="409.90" stroke="#000" stroke-width="0.7" />
<line x1="136.59" y1="408.50" x2="136.59" y2="409.90" stroke="#000" stroke-width="0.7" />
<line x1="142.11" y1="408.50" x2="142.11" y2="409.90" stroke="#000" stroke-width="0.7" />
<line x1="147.63" y1="408.50" x2="147.63" y2="409.90" stroke="#000" stroke-width="0.7" />
<line x1="153.14" y1="408.50" x2="153.14" y2="411.10" stroke="#000" stroke-width="0.7" />
<line x1="158.66" y1="408.50" x2="158.66" y2="409.90" stroke="#000" stroke-width="0.7" />
<line x1="164.18" y1="408.50" x2="164.18" y2="409.90" stroke="#000" stroke-width="0.7" />
<line x1="169.69" y1="408.50" x2="169.69" y2="409.90" stroke="#000" stroke-width="0.7" />
<line x1="175.21" y1="408.50" x2="175.21" y2="409.90" stroke="#000" stroke-width="0.7" />
<line x1="180.73" y1="408.50" x2="180.73" y2="411.10" stroke="#000" stroke-width="0.7" />
<line x1="186.25" y1="408.50" x2="186.25" y2="409.90" stroke="#000" stroke-width="0.7" />
<line x1="191.76" y1="408.50" x2="191.76" y2="409.90" stroke="#000" stroke-width="0.7" />
<line x1="197.28" y1="408.50" x2="197.28" y2="409.90" stroke="#000" stroke-width="0.7" />
<line x1="202.80" y1="408.50" x2="202.80" y2="409.90" stroke="#000" stroke-width="0.7" />
<line x1="208.31" y1="408.50" x2="208.31" y2="411.10" stroke="#000" stroke-width="0.7" />
<line x1="213.83" y1="408.50" x2="213.83" y2="409.90" stroke="#000" stroke-width="0.7" />
<line x1="219.35" y1="408.50" x2="219.35" y2="409.90" stroke="#000" stroke-width="0.7" />
<line x1="224.87" y1="408.50" x2="224.87" y2="409.90" stroke="#000" stroke-width="0.7" />
<line x1="230.38" y1="408.50" x2="230.38" y2="409.90" stroke="#000" stroke-width="0.7" />
<line x1="235.90" y1="408.50" x2="235.90" y2="411.10" stroke="#000" stroke-width="0.7" />
<text x="42.80" y="421.00" font-size="8.3" text-anchor="middle" stroke="#111" stroke-width="0.12" fill="#111" >0,0</text>
<text x="70.39" y="421.00" font-size="8.3" text-anchor="middle" stroke="#111" stroke-width="0.12" fill="#111" >5,0</text>
<text x="97.97" y="421.00" font-size="8.3" text-anchor="middle" stroke="#111" stroke-width="0.12" fill="#111" >10,0</text>
<text x="125.56" y="421.00" font-size="8.3" text-anchor="middle" stroke="#111" stroke-width="0.12" fill="#111" >15,0</text>
<text x="153.14" y="421.00" font-size="8.3" text-anchor="middle" stroke="#111" stroke-width="0.12" fill="#111" >20,0</text>
<text x="180.73" y="421.00" font-size="8.3" text-anchor="middle" stroke="#111" stroke-width="0.12" fill="#111" >25,0</text>
<text x="208.31" y="421.00" font-size="8.3" text-anchor="middle" stroke="#111" stroke-width="0.12" fill="#111" >30,0</text>
<text x="235.90" y="421.00" font-size="8.3" text-anchor="middle" stroke="#111" stroke-width="0.12" fill="#111" >35,0</text>
<text x="139.15" y="434.60" font-size="8.6" text-anchor="middle" stroke="#111" stroke-width="0.28" fill="#111" textLength="70.8" lengthAdjust="spacingAndGlyphs" >HPLC retention time (s)</text>
<text x="15.60" y="340.80" font-size="8.2" text-anchor="middle" stroke="#111" stroke-width="0.22" fill="#111" textLength="38.2" lengthAdjust="spacingAndGlyphs" transform="rotate(-90 15.60 340.80)" >Counts (a.u.)</text>
<text x="46.40" y="279.80" font-size="4.6" text-anchor="start" stroke="#222" stroke-width="0.12" fill="#222" textLength="10.8" lengthAdjust="spacingAndGlyphs" font-style="italic">mAU</text>
<text x="231.90" y="280.20" font-size="4.8" text-anchor="end" stroke="#222" stroke-width="0.12" fill="#222" textLength="30.5" lengthAdjust="spacingAndGlyphs" >WVL:415 nm</text>
<text x="231.90" y="404.60" font-size="4.6" text-anchor="end" stroke="#222" stroke-width="0.12" fill="#222" >min</text>
<text x="139.40" y="266.90" font-size="9.3" text-anchor="middle" stroke="#111" stroke-width="0.12" fill="#111" textLength="75.5" lengthAdjust="spacingAndGlyphs" >cRBC culture dish</text>
<polyline points="53.83,393.93 86.94,394.86 122.80,396.72" fill="none" stroke="#e58a8a" stroke-width="0.8" stroke-linejoin="round" />
<polyline points="42.80,396.41 43.08,396.41 43.35,396.41 43.63,396.41 43.90,396.41 44.18,396.41 44.46,396.41 44.73,396.41 45.01,396.41 45.28,396.41 45.56,396.41 45.83,396.41 46.11,396.41 46.39,396.41 46.66,396.41 46.94,396.41 47.21,396.41 47.49,396.41 47.77,396.41 48.04,396.40 48.32,396.40 48.59,396.40 48.87,396.39 49.14,396.38 49.42,396.36 49.70,396.33 49.97,396.30 50.25,396.25 50.52,396.18 50.80,396.10 51.08,395.99 51.35,395.86 51.63,395.70 51.90,395.51 52.18,395.29 52.45,395.05 52.73,394.80 53.01,394.53 53.28,394.26 53.56,394.00 53.83,393.76 54.11,393.56 54.39,393.40 54.66,393.29 54.94,393.23 55.21,393.22 55.49,393.27 55.77,393.35 56.04,393.47 56.32,393.61 56.59,393.75 56.87,393.90 57.14,394.04 57.42,394.18 57.70,394.30 57.97,394.41 58.25,394.52 58.52,394.63 58.80,394.74 59.08,394.86 59.35,394.98 59.63,395.10 59.90,395.21 60.18,395.30 60.45,395.36 60.73,395.37 61.01,395.31 61.28,395.16 61.56,394.92 61.83,394.56 62.11,394.07 62.39,393.47 62.66,392.76 62.94,391.96 63.21,391.11 63.49,390.25 63.77,389.45 64.04,388.74 64.32,388.19 64.59,387.85 64.87,387.73 65.14,387.85 65.42,388.20 65.70,388.75 65.97,389.46 66.25,390.28 66.52,391.15 66.80,392.01 67.08,392.84 67.35,393.59 67.63,394.25 67.90,394.79 68.18,395.24 68.45,395.58 68.73,395.84 69.01,396.03 69.28,396.16 69.56,396.25 69.83,396.31 70.11,396.35 70.39,396.38 70.66,396.39 70.94,396.40 71.21,396.40 71.49,396.41 71.77,396.41 72.04,396.41 72.32,396.41 72.59,396.41 72.87,396.41 73.14,396.41 73.42,396.41 73.70,396.41 73.97,396.41 74.25,396.41 74.52,396.41 74.80,396.41 75.08,396.40 75.35,396.39 75.63,396.38 75.90,396.36 76.18,396.33 76.45,396.27 76.73,396.19 77.01,396.07 77.28,395.89 77.56,395.63 77.83,395.28 78.11,394.79 78.39,394.15 78.66,393.34 78.94,392.31 79.21,391.08 79.49,389.62 79.76,387.97 80.04,386.15 80.32,384.22 80.59,382.26 80.87,380.36 81.14,378.61 81.42,377.12 81.70,375.98 81.97,375.26 82.25,375.02 82.52,375.26 82.80,375.98 83.08,377.12 83.35,378.61 83.63,380.36 83.90,382.26 84.18,384.22 84.45,386.14 84.73,387.96 85.01,389.61 85.28,391.05 85.56,392.27 85.83,393.27 86.11,394.06 86.39,394.65 86.66,395.07 86.94,395.34 87.21,395.49 87.49,395.53 87.76,395.49 88.04,395.38 88.32,395.23 88.59,395.04 88.87,394.85 89.14,394.66 89.42,394.49 89.70,394.35 89.97,394.27 90.25,394.24 90.52,394.27 90.80,394.35 91.08,394.48 91.35,394.65 91.63,394.85 91.90,395.04 92.18,395.24 92.45,395.40 92.73,395.53 93.01,395.62 93.28,395.65 93.56,395.62 93.83,395.52 94.11,395.34 94.39,395.10 94.66,394.78 94.94,394.39 95.21,393.93 95.49,393.41 95.76,392.85 96.04,392.27 96.32,391.68 96.59,391.12 96.87,390.62 97.14,390.19 97.42,389.86 97.70,389.66 97.97,389.59 98.25,389.65 98.52,389.85 98.80,390.17 99.07,390.59 99.35,391.07 99.63,391.60 99.90,392.13 100.18,392.64 100.45,393.08 100.73,393.43 101.01,393.64 101.28,393.68 101.56,393.50 101.83,393.08 102.11,392.35 102.39,391.26 102.66,389.75 102.94,387.78 103.21,385.28 103.49,382.20 103.76,378.53 104.04,374.26 104.32,369.41 104.59,364.04 104.87,358.27 105.14,352.23 105.42,346.10 105.70,340.11 105.97,334.49 106.25,329.47 106.52,325.29 106.80,322.15 107.07,320.19 107.35,319.53 107.63,320.19 107.90,322.15 108.18,325.29 108.45,329.47 108.73,334.49 109.01,340.11 109.28,346.11 109.56,352.23 109.83,358.28 110.11,364.06 110.39,369.44 110.66,374.31 110.94,378.61 111.21,382.32 111.49,385.45 111.76,388.03 112.04,390.11 112.32,391.76 112.59,393.03 112.87,394.00 113.14,394.72 113.42,395.24 113.70,395.62 113.97,395.88 114.25,396.06 114.52,396.18 114.80,396.26 115.07,396.30 115.35,396.32 115.63,396.32 115.90,396.30 116.18,396.26 116.45,396.20 116.73,396.11 117.01,396.00 117.28,395.87 117.56,395.70 117.83,395.52 118.11,395.31 118.38,395.09 118.66,394.88 118.94,394.67 119.21,394.50 119.49,394.36 119.76,394.27 120.04,394.24 120.32,394.27 120.59,394.36 120.87,394.50 121.14,394.67 121.42,394.88 121.70,395.09 121.97,395.31 122.25,395.52 122.52,395.71 122.80,395.87 123.07,396.01 123.35,396.12 123.63,396.20 123.90,396.27 124.18,396.31 124.45,396.35 124.73,396.37 125.01,396.39 125.28,396.40 125.56,396.40 125.83,396.41 126.11,396.41 126.38,396.41 126.66,396.41 126.94,396.41 127.21,396.41 127.49,396.41 127.76,396.41 128.04,396.41 128.32,396.41 128.59,396.41 128.87,396.41 129.14,396.41 129.42,396.41 129.69,396.41 129.97,396.41 130.25,396.41 130.52,396.41 130.80,396.41 131.07,396.41 131.35,396.41 131.63,396.41 131.90,396.41 132.18,396.41 132.45,396.41 132.73,396.41 133.01,396.41 133.28,396.41 133.56,396.41 133.83,396.41 134.11,396.41 134.38,396.41 134.66,396.41 134.94,396.41 135.21,396.41 135.49,396.41 135.76,396.41 136.04,396.41 136.32,396.41 136.59,396.41 136.87,396.41 137.14,396.41 137.42,396.41 137.69,396.41 137.97,396.41 138.25,396.41 138.52,396.41 138.80,396.41 139.07,396.41 139.35,396.41 139.63,396.41 139.90,396.41 140.18,396.41 140.45,396.41 140.73,396.41 141.01,396.41 141.28,396.41 141.56,396.41 141.83,396.41 142.11,396.41 142.38,396.41 142.66,396.42 142.94,396.42 143.21,396.42 143.49,396.42 143.76,396.42 144.04,396.42 144.32,396.42 144.59,396.42 144.87,396.42 145.14,396.42 145.42,396.42 145.69,396.42 145.97,396.42 146.25,396.42 146.52,396.42 146.80,396.42 147.07,396.42 147.35,396.42 147.63,396.43 147.90,396.43 148.18,396.43 148.45,396.43 148.73,396.43 149.01,396.43 149.28,396.43 149.56,396.43 149.83,396.43 150.11,396.44 150.38,396.44 150.66,396.44 150.94,396.44 151.21,396.44 151.49,396.44 151.76,396.45 152.04,396.45 152.32,396.45 152.59,396.45 152.87,396.46 153.14,396.46 153.42,396.46 153.69,396.47 153.97,396.47 154.25,396.47 154.52,396.48 154.80,396.48 155.07,396.48 155.35,396.49 155.63,396.49 155.90,396.50 156.18,396.50 156.45,396.51 156.73,396.51 157.00,396.52 157.28,396.53 157.56,396.53 157.83,396.54 158.11,396.55 158.38,396.56 158.66,396.56 158.94,396.57 159.21,396.58 159.49,396.59 159.76,396.60 160.04,396.61 160.32,396.62 160.59,396.64 160.87,396.65 161.14,396.66 161.42,396.67 161.69,396.69 161.97,396.70 162.25,396.72 162.52,396.73 162.80,396.75 163.07,396.77 163.35,396.78 163.63,396.80 163.90,396.82 164.18,396.84 164.45,396.86 164.73,396.88 165.00,396.90 165.28,396.92 165.56,396.95 165.83,396.97 166.11,396.99 166.38,397.02 166.66,397.04 166.94,397.07 167.21,397.09 167.49,397.12 167.76,397.15 168.04,397.17 168.31,397.20 168.59,397.23 168.87,397.26 169.14,397.28 169.42,397.31 169.69,397.34 169.97,397.37 170.25,397.40 170.52,397.42 170.80,397.45 171.07,397.48 171.35,397.51 171.63,397.53 171.90,397.56 172.18,397.59 172.45,397.61 172.73,397.64 173.00,397.66 173.28,397.69 173.56,397.71 173.83,397.73 174.11,397.75 174.38,397.78 174.66,397.80 174.94,397.82 175.21,397.84 175.49,397.86 175.76,397.88 176.04,397.90 176.31,397.91 176.59,397.93 176.87,397.95 177.14,397.96 177.42,397.98 177.69,397.99 177.97,398.01 178.25,398.02 178.52,398.03 178.80,398.04 179.07,398.06 179.35,398.07 179.63,398.08 179.90,398.09 180.18,398.10 180.45,398.11 180.73,398.11 181.00,398.12 181.28,398.13 181.56,398.14 181.83,398.14 182.11,398.15 182.38,398.15 182.66,398.16 182.94,398.16 183.21,398.17 183.49,398.17 183.76,398.17 184.04,398.18 184.31,398.18 184.59,398.18 184.87,398.18 185.14,398.18 185.42,398.17 185.69,398.17 185.97,398.16 186.25,398.15 186.52,398.14 186.80,398.12 187.07,398.10 187.35,398.08 187.62,398.05 187.90,398.02 188.18,397.98 188.45,397.93 188.73,397.88 189.00,397.82 189.28,397.75 189.56,397.68 189.83,397.60 190.11,397.51 190.38,397.42 190.66,397.33 190.94,397.24 191.21,397.15 191.49,397.06 191.76,396.98 192.04,396.91 192.31,396.84 192.59,396.78 192.87,396.72 193.14,396.67 193.42,396.63 193.69,396.59 193.97,396.56 194.25,396.54 194.52,396.52 194.80,396.50 195.07,396.48 195.35,396.47 195.62,396.46 195.90,396.45 196.18,396.44 196.45,396.44 196.73,396.43 197.00,396.43 197.28,396.43 197.56,396.42 197.83,396.42 198.11,396.42 198.38,396.42 198.66,396.42 198.94,396.41 199.21,396.41 199.49,396.41 199.76,396.41 200.04,396.41 200.31,396.41 200.59,396.41 200.87,396.41 201.14,396.41 201.42,396.41 201.69,396.41 201.97,396.41 202.25,396.41 202.52,396.41 202.80,396.41 203.07,396.41 203.35,396.41 203.62,396.41 203.90,396.41 204.18,396.41 204.45,396.41 204.73,396.41 205.00,396.41 205.28,396.41 205.56,396.41 205.83,396.41 206.11,396.41 206.38,396.41 206.66,396.41 206.94,396.41 207.21,396.41 207.49,396.41 207.76,396.41 208.04,396.41 208.31,396.41 208.59,396.41 208.87,396.41 209.14,396.41 209.42,396.41 209.69,396.41 209.97,396.41 210.25,396.41 210.52,396.41 210.80,396.41 211.07,396.41 211.35,396.41 211.62,396.41 211.90,396.41 212.18,396.41 212.45,396.41 212.73,396.41 213.00,396.41 213.28,396.41 213.56,396.41 213.83,396.41 214.11,396.41 214.38,396.41 214.66,396.41 214.93,396.41 215.21,396.41 215.49,396.41 215.76,396.41 216.04,396.41 216.31,396.41 216.59,396.41 216.87,396.41 217.14,396.41 217.42,396.41 217.69,396.41 217.97,396.41 218.25,396.41 218.52,396.41 218.80,396.41 219.07,396.41 219.35,396.41 219.62,396.41 219.90,396.41 220.18,396.41 220.45,396.41 220.73,396.41 221.00,396.41 221.28,396.41 221.56,396.41 221.83,396.41 222.11,396.41 222.38,396.41 222.66,396.41 222.93,396.41 223.21,396.41 223.49,396.41 223.76,396.41 224.04,396.41 224.31,396.41 224.59,396.41 224.87,396.41 225.14,396.41 225.42,396.41 225.69,396.41 225.97,396.41 226.25,396.41 226.52,396.41 226.80,396.41 227.07,396.41 227.35,396.41 227.62,396.41 227.90,396.41 228.18,396.41 228.45,396.41 228.73,396.41 229.00,396.41 229.28,396.41 229.56,396.41 229.83,396.41 230.11,396.41 230.38,396.41 230.66,396.41 230.93,396.41 231.21,396.41 231.49,396.41 231.76,396.41 232.04,396.41 232.31,396.41 232.59,396.41 232.87,396.41 233.14,396.41 233.42,396.41 233.69,396.41 233.97,396.41 234.24,396.41 234.52,396.41 234.80,396.41 235.07,396.41 235.35,396.41 235.62,396.41 235.90,396.41" fill="none" stroke="#7cc064" stroke-width="0.8" stroke-linejoin="round" />
<text x="57.10" y="391.20" font-size="5.2" text-anchor="start" stroke="#1a1a1a" stroke-width="0.05" fill="#1a1a1a" textLength="36.30000000000001" lengthAdjust="spacingAndGlyphs" transform="rotate(-90 57.10 391.20)" >1 - HbH - 2,327</text>
<text x="66.90" y="386.00" font-size="5.2" text-anchor="start" stroke="#1a1a1a" stroke-width="0.05" fill="#1a1a1a" textLength="22" lengthAdjust="spacingAndGlyphs" transform="rotate(-90 66.90 386.00)" >2 - 4,010</text>
<text x="85.10" y="371.30" font-size="5.2" text-anchor="start" stroke="#1a1a1a" stroke-width="0.05" fill="#1a1a1a" textLength="33.69999999999999" lengthAdjust="spacingAndGlyphs" transform="rotate(-90 85.10 371.30)" >3 - HbF - 7,189</text>
<text x="92.00" y="392.00" font-size="5.2" text-anchor="start" stroke="#1a1a1a" stroke-width="0.05" fill="#1a1a1a" textLength="22" lengthAdjust="spacingAndGlyphs" transform="rotate(-90 92.00 392.00)" >4 - 8,611</text>
<text x="98.90" y="387.70" font-size="5.2" text-anchor="start" stroke="#1a1a1a" stroke-width="0.05" fill="#1a1a1a" textLength="21.899999999999977" lengthAdjust="spacingAndGlyphs" transform="rotate(-90 98.90 387.70)" >5 - 9,964</text>
<text x="105.50" y="316.00" font-size="5.2" text-anchor="start" stroke="#1a1a1a" stroke-width="0.05" fill="#1a1a1a" textLength="24.30000000000001" lengthAdjust="spacingAndGlyphs" transform="rotate(-90 105.50 316.00)" >6 - HbA1 -</text>
<text x="112.10" y="316.00" font-size="5.2" text-anchor="start" stroke="#1a1a1a" stroke-width="0.05" fill="#1a1a1a" textLength="16.5" lengthAdjust="spacingAndGlyphs" transform="rotate(-90 112.10 316.00)" >11,691</text>
<text x="121.10" y="392.00" font-size="5.2" text-anchor="start" stroke="#1a1a1a" stroke-width="0.05" fill="#1a1a1a" textLength="42.30000000000001" lengthAdjust="spacingAndGlyphs" transform="rotate(-90 121.10 392.00)" >7 - HbA2 - 14,021</text>
<path d="M303.7,272.2 L504.6,272.2 L504.6,408.5 L303.7,408.5" fill="none" stroke="#000" stroke-width="1.1"/>
<line x1="304.00" y1="271.70" x2="304.00" y2="409.00" stroke="#333" stroke-width="1.9" />
<line x1="301.20" y1="408.50" x2="303.70" y2="408.50" stroke="#000" stroke-width="0.7" />
<line x1="302.20" y1="403.50" x2="303.70" y2="403.50" stroke="#000" stroke-width="0.7" />
<line x1="301.20" y1="398.50" x2="303.70" y2="398.50" stroke="#000" stroke-width="0.7" />
<line x1="302.20" y1="393.50" x2="303.70" y2="393.50" stroke="#000" stroke-width="0.7" />
<line x1="302.20" y1="388.50" x2="303.70" y2="388.50" stroke="#000" stroke-width="0.7" />
<line x1="302.20" y1="383.50" x2="303.70" y2="383.50" stroke="#000" stroke-width="0.7" />
<line x1="302.20" y1="378.50" x2="303.70" y2="378.50" stroke="#000" stroke-width="0.7" />
<line x1="301.20" y1="373.50" x2="303.70" y2="373.50" stroke="#000" stroke-width="0.7" />
<line x1="302.20" y1="368.50" x2="303.70" y2="368.50" stroke="#000" stroke-width="0.7" />
<line x1="302.20" y1="363.50" x2="303.70" y2="363.50" stroke="#000" stroke-width="0.7" />
<line x1="302.20" y1="358.50" x2="303.70" y2="358.50" stroke="#000" stroke-width="0.7" />
<line x1="302.20" y1="353.50" x2="303.70" y2="353.50" stroke="#000" stroke-width="0.7" />
<line x1="301.20" y1="348.50" x2="303.70" y2="348.50" stroke="#000" stroke-width="0.7" />
<line x1="302.20" y1="343.50" x2="303.70" y2="343.50" stroke="#000" stroke-width="0.7" />
<line x1="302.20" y1="338.50" x2="303.70" y2="338.50" stroke="#000" stroke-width="0.7" />
<line x1="302.20" y1="333.50" x2="303.70" y2="333.50" stroke="#000" stroke-width="0.7" />
<line x1="302.20" y1="328.50" x2="303.70" y2="328.50" stroke="#000" stroke-width="0.7" />
<line x1="301.20" y1="323.50" x2="303.70" y2="323.50" stroke="#000" stroke-width="0.7" />
<line x1="302.20" y1="318.50" x2="303.70" y2="318.50" stroke="#000" stroke-width="0.7" />
<line x1="302.20" y1="313.50" x2="303.70" y2="313.50" stroke="#000" stroke-width="0.7" />
<line x1="302.20" y1="308.50" x2="303.70" y2="308.50" stroke="#000" stroke-width="0.7" />
<line x1="302.20" y1="303.50" x2="303.70" y2="303.50" stroke="#000" stroke-width="0.7" />
<line x1="301.20" y1="298.50" x2="303.70" y2="298.50" stroke="#000" stroke-width="0.7" />
<line x1="302.20" y1="293.50" x2="303.70" y2="293.50" stroke="#000" stroke-width="0.7" />
<line x1="302.20" y1="288.50" x2="303.70" y2="288.50" stroke="#000" stroke-width="0.7" />
<line x1="302.20" y1="283.50" x2="303.70" y2="283.50" stroke="#000" stroke-width="0.7" />
<line x1="302.20" y1="278.50" x2="303.70" y2="278.50" stroke="#000" stroke-width="0.7" />
<line x1="301.20" y1="273.50" x2="303.70" y2="273.50" stroke="#000" stroke-width="0.7" />
<text x="298.70" y="411.50" font-size="8.3" text-anchor="end" stroke="#111" stroke-width="0.12" fill="#111" >-2,0</text>
<text x="298.70" y="376.50" font-size="8.3" text-anchor="end" stroke="#111" stroke-width="0.12" fill="#111" >5,0</text>
<text x="298.70" y="351.50" font-size="8.3" text-anchor="end" stroke="#111" stroke-width="0.12" fill="#111" >10,0</text>
<text x="298.70" y="326.50" font-size="8.3" text-anchor="end" stroke="#111" stroke-width="0.12" fill="#111" >15,0</text>
<text x="298.70" y="301.50" font-size="8.3" text-anchor="end" stroke="#111" stroke-width="0.12" fill="#111" >20,0</text>
<text x="298.70" y="276.50" font-size="8.3" text-anchor="end" stroke="#111" stroke-width="0.12" fill="#111" >25,0</text>
<line x1="303.70" y1="408.50" x2="303.70" y2="411.10" stroke="#000" stroke-width="0.7" />
<line x1="309.44" y1="408.50" x2="309.44" y2="409.90" stroke="#000" stroke-width="0.7" />
<line x1="315.18" y1="408.50" x2="315.18" y2="409.90" stroke="#000" stroke-width="0.7" />
<line x1="320.92" y1="408.50" x2="320.92" y2="409.90" stroke="#000" stroke-width="0.7" />
<line x1="326.66" y1="408.50" x2="326.66" y2="409.90" stroke="#000" stroke-width="0.7" />
<line x1="332.40" y1="408.50" x2="332.40" y2="411.10" stroke="#000" stroke-width="0.7" />
<line x1="338.14" y1="408.50" x2="338.14" y2="409.90" stroke="#000" stroke-width="0.7" />
<line x1="343.88" y1="408.50" x2="343.88" y2="409.90" stroke="#000" stroke-width="0.7" />
<line x1="349.62" y1="408.50" x2="349.62" y2="409.90" stroke="#000" stroke-width="0.7" />
<line x1="355.36" y1="408.50" x2="355.36" y2="409.90" stroke="#000" stroke-width="0.7" />
<line x1="361.10" y1="408.50" x2="361.10" y2="411.10" stroke="#000" stroke-width="0.7" />
<line x1="366.84" y1="408.50" x2="366.84" y2="409.90" stroke="#000" stroke-width="0.7" />
<line x1="372.58" y1="408.50" x2="372.58" y2="409.90" stroke="#000" stroke-width="0.7" />
<line x1="378.32" y1="408.50" x2="378.32" y2="409.90" stroke="#000" stroke-width="0.7" />
<line x1="384.06" y1="408.50" x2="384.06" y2="409.90" stroke="#000" stroke-width="0.7" />
<line x1="389.80" y1="408.50" x2="389.80" y2="411.10" stroke="#000" stroke-width="0.7" />
<line x1="395.54" y1="408.50" x2="395.54" y2="409.90" stroke="#000" stroke-width="0.7" />
<line x1="401.28" y1="408.50" x2="401.28" y2="409.90" stroke="#000" stroke-width="0.7" />
<line x1="407.02" y1="408.50" x2="407.02" y2="409.90" stroke="#000" stroke-width="0.7" />
<line x1="412.76" y1="408.50" x2="412.76" y2="409.90" stroke="#000" stroke-width="0.7" />
<line x1="418.50" y1="408.50" x2="418.50" y2="411.10" stroke="#000" stroke-width="0.7" />
<line x1="424.24" y1="408.50" x2="424.24" y2="409.90" stroke="#000" stroke-width="0.7" />
<line x1="429.98" y1="408.50" x2="429.98" y2="409.90" stroke="#000" stroke-width="0.7" />
<line x1="435.72" y1="408.50" x2="435.72" y2="409.90" stroke="#000" stroke-width="0.7" />
<line x1="441.46" y1="408.50" x2="441.46" y2="409.90" stroke="#000" stroke-width="0.7" />
<line x1="447.20" y1="408.50" x2="447.20" y2="411.10" stroke="#000" stroke-width="0.7" />
<line x1="452.94" y1="408.50" x2="452.94" y2="409.90" stroke="#000" stroke-width="0.7" />
<line x1="458.68" y1="408.50" x2="458.68" y2="409.90" stroke="#000" stroke-width="0.7" />
<line x1="464.42" y1="408.50" x2="464.42" y2="409.90" stroke="#000" stroke-width="0.7" />
<line x1="470.16" y1="408.50" x2="470.16" y2="409.90" stroke="#000" stroke-width="0.7" />
<line x1="475.90" y1="408.50" x2="475.90" y2="411.10" stroke="#000" stroke-width="0.7" />
<line x1="481.64" y1="408.50" x2="481.64" y2="409.90" stroke="#000" stroke-width="0.7" />
<line x1="487.38" y1="408.50" x2="487.38" y2="409.90" stroke="#000" stroke-width="0.7" />
<line x1="493.12" y1="408.50" x2="493.12" y2="409.90" stroke="#000" stroke-width="0.7" />
<line x1="498.86" y1="408.50" x2="498.86" y2="409.90" stroke="#000" stroke-width="0.7" />
<line x1="504.60" y1="408.50" x2="504.60" y2="411.10" stroke="#000" stroke-width="0.7" />
<text x="303.70" y="421.00" font-size="8.3" text-anchor="middle" stroke="#111" stroke-width="0.12" fill="#111" >0,0</text>
<text x="332.40" y="421.00" font-size="8.3" text-anchor="middle" stroke="#111" stroke-width="0.12" fill="#111" >5,0</text>
<text x="361.10" y="421.00" font-size="8.3" text-anchor="middle" stroke="#111" stroke-width="0.12" fill="#111" >10,0</text>
<text x="389.80" y="421.00" font-size="8.3" text-anchor="middle" stroke="#111" stroke-width="0.12" fill="#111" >15,0</text>
<text x="418.50" y="421.00" font-size="8.3" text-anchor="middle" stroke="#111" stroke-width="0.12" fill="#111" >20,0</text>
<text x="447.20" y="421.00" font-size="8.3" text-anchor="middle" stroke="#111" stroke-width="0.12" fill="#111" >25,0</text>
<text x="475.90" y="421.00" font-size="8.3" text-anchor="middle" stroke="#111" stroke-width="0.12" fill="#111" >30,0</text>
<text x="504.60" y="421.00" font-size="8.3" text-anchor="middle" stroke="#111" stroke-width="0.12" fill="#111" >35,0</text>
<text x="403.95" y="434.60" font-size="8.6" text-anchor="middle" stroke="#111" stroke-width="0.28" fill="#111" textLength="70.8" lengthAdjust="spacingAndGlyphs" >HPLC retention time (s)</text>
<text x="276.50" y="340.80" font-size="8.2" text-anchor="middle" stroke="#111" stroke-width="0.22" fill="#111" textLength="38.2" lengthAdjust="spacingAndGlyphs" transform="rotate(-90 276.50 340.80)" >Counts (a.u.)</text>
<text x="307.30" y="279.80" font-size="4.6" text-anchor="start" stroke="#222" stroke-width="0.12" fill="#222" textLength="10.8" lengthAdjust="spacingAndGlyphs" font-style="italic">mAU</text>
<text x="500.60" y="280.20" font-size="4.8" text-anchor="end" stroke="#222" stroke-width="0.12" fill="#222" textLength="30.5" lengthAdjust="spacingAndGlyphs" >WVL:415 nm</text>
<text x="500.60" y="404.60" font-size="4.6" text-anchor="end" stroke="#222" stroke-width="0.12" fill="#222" >min</text>
<text x="400.40" y="266.90" font-size="9.3" text-anchor="middle" stroke="#111" stroke-width="0.12" fill="#111" textLength="54.3" lengthAdjust="spacingAndGlyphs" >cRBC G-Rex</text>
<polyline points="315.18,396.75 349.62,397.50 386.93,399.00" fill="none" stroke="#e58a8a" stroke-width="0.8" stroke-linejoin="round" />
<polyline points="303.70,398.50 303.99,398.50 304.27,398.50 304.56,398.50 304.85,398.50 305.13,398.50 305.42,398.50 305.71,398.50 306.00,398.50 306.28,398.50 306.57,398.50 306.86,398.50 307.14,398.50 307.43,398.50 307.72,398.50 308.00,398.50 308.29,398.50 308.58,398.50 308.87,398.50 309.15,398.50 309.44,398.50 309.73,398.50 310.01,398.50 310.30,398.50 310.59,398.50 310.88,398.50 311.16,398.50 311.45,398.50 311.74,398.50 312.02,398.50 312.31,398.50 312.60,398.50 312.88,398.50 313.17,398.50 313.46,398.49 313.75,398.49 314.03,398.47 314.32,398.45 314.61,398.41 314.89,398.35 315.18,398.25 315.47,398.10 315.75,397.89 316.04,397.61 316.33,397.25 316.62,396.81 316.90,396.31 317.19,395.76 317.48,395.22 317.76,394.72 318.05,394.32 318.34,394.04 318.62,393.93 318.91,393.99 319.20,394.20 319.49,394.53 319.77,394.94 320.06,395.37 320.35,395.77 320.63,396.10 320.92,396.33 321.21,396.45 321.49,396.45 321.78,396.35 322.07,396.17 322.36,395.92 322.64,395.64 322.93,395.35 323.22,395.07 323.50,394.83 323.79,394.65 324.08,394.52 324.36,394.48 324.65,394.50 324.94,394.60 325.22,394.76 325.51,394.97 325.80,395.21 326.09,395.46 326.37,395.70 326.66,395.92 326.95,396.10 327.23,396.24 327.52,396.32 327.81,396.37 328.09,396.37 328.38,396.36 328.67,396.33 328.96,396.31 329.24,396.32 329.53,396.35 329.82,396.43 330.10,396.54 330.39,396.69 330.68,396.87 330.96,397.07 331.25,397.28 331.54,397.48 331.83,397.67 332.11,397.85 332.40,398.00 332.69,398.13 332.97,398.23 333.26,398.31 333.55,398.37 333.83,398.41 334.12,398.44 334.41,398.46 334.70,398.48 334.98,398.49 335.27,398.49 335.56,398.50 335.84,398.50 336.13,398.50 336.42,398.49 336.70,398.47 336.99,398.42 337.28,398.26 337.57,397.89 337.85,397.09 338.14,395.59 338.43,393.14 338.71,389.66 339.00,385.46 339.29,381.28 339.57,378.16 339.86,377.00 340.15,378.16 340.44,381.28 340.72,385.45 341.01,389.64 341.30,393.11 341.58,395.55 341.87,397.02 342.16,397.79 342.44,398.12 342.73,398.21 343.02,398.19 343.31,398.12 343.59,398.01 343.88,397.88 344.17,397.74 344.45,397.59 344.74,397.44 345.03,397.30 345.31,397.18 345.60,397.08 345.89,397.02 346.18,397.00 346.46,397.01 346.75,397.07 347.04,397.15 347.32,397.26 347.61,397.37 347.90,397.48 348.19,397.56 348.47,397.60 348.76,397.57 349.05,397.47 349.33,397.26 349.62,396.94 349.91,396.49 350.19,395.91 350.48,395.19 350.77,394.34 351.06,393.41 351.34,392.41 351.63,391.41 351.92,390.46 352.20,389.62 352.49,388.94 352.78,388.47 353.06,388.22 353.35,388.19 353.64,388.36 353.93,388.69 354.21,389.10 354.50,389.56 354.79,390.00 355.07,390.40 355.36,390.76 355.65,391.08 355.93,391.39 356.22,391.74 356.51,392.14 356.80,392.64 357.08,393.21 357.37,393.85 357.66,394.51 357.94,395.13 358.23,395.64 358.52,395.94 358.80,395.91 359.09,395.41 359.38,394.23 359.67,392.15 359.95,388.91 360.24,384.28 360.53,378.08 360.81,370.30 361.10,361.16 361.39,351.11 361.67,340.90 361.96,331.46 362.25,323.77 362.53,318.75 362.82,317.00 363.11,318.75 363.40,323.78 363.68,331.46 363.97,340.91 364.26,351.13 364.54,361.19 364.83,370.36 365.12,378.18 365.40,384.45 365.69,389.20 365.98,392.60 366.27,394.92 366.55,396.42 366.84,397.34 367.13,397.88 367.41,398.18 367.70,398.35 367.99,398.43 368.27,398.47 368.56,398.49 368.85,398.49 369.14,398.50 369.42,398.50 369.71,398.50 370.00,398.50 370.28,398.50 370.57,398.50 370.86,398.50 371.14,398.49 371.43,398.49 371.72,398.48 372.01,398.47 372.29,398.45 372.58,398.43 372.87,398.39 373.15,398.34 373.44,398.26 373.73,398.16 374.01,398.03 374.30,397.88 374.59,397.69 374.88,397.47 375.16,397.23 375.45,396.98 375.74,396.73 376.02,396.50 376.31,396.29 376.60,396.14 376.88,396.03 377.17,396.00 377.46,396.03 377.75,396.14 378.03,396.29 378.32,396.50 378.61,396.73 378.89,396.98 379.18,397.23 379.47,397.47 379.75,397.69 380.04,397.88 380.33,398.03 380.62,398.16 380.90,398.26 381.19,398.34 381.48,398.39 381.76,398.43 382.05,398.45 382.34,398.47 382.62,398.48 382.91,398.49 383.20,398.49 383.49,398.50 383.77,398.50 384.06,398.50 384.35,398.50 384.63,398.50 384.92,398.50 385.21,398.50 385.50,398.50 385.78,398.50 386.07,398.50 386.36,398.50 386.64,398.50 386.93,398.50 387.22,398.50 387.50,398.50 387.79,398.50 388.08,398.50 388.37,398.50 388.65,398.50 388.94,398.50 389.23,398.50 389.51,398.50 389.80,398.50 390.09,398.50 390.37,398.50 390.66,398.50 390.95,398.50 391.24,398.50 391.52,398.50 391.81,398.50 392.10,398.50 392.38,398.50 392.67,398.50 392.96,398.50 393.24,398.50 393.53,398.50 393.82,398.50 394.11,398.50 394.39,398.50 394.68,398.50 394.97,398.50 395.25,398.50 395.54,398.50 395.83,398.50 396.11,398.50 396.40,398.50 396.69,398.50 396.98,398.50 397.26,398.50 397.55,398.50 397.84,398.50 398.12,398.50 398.41,398.50 398.70,398.50 398.98,398.50 399.27,398.50 399.56,398.50 399.85,398.50 400.13,398.50 400.42,398.50 400.71,398.50 400.99,398.50 401.28,398.50 401.57,398.50 401.85,398.50 402.14,398.50 402.43,398.50 402.72,398.50 403.00,398.50 403.29,398.50 403.58,398.50 403.86,398.50 404.15,398.50 404.44,398.50 404.72,398.50 405.01,398.50 405.30,398.50 405.59,398.50 405.87,398.50 406.16,398.50 406.45,398.50 406.73,398.50 407.02,398.50 407.31,398.50 407.59,398.50 407.88,398.50 408.17,398.50 408.46,398.50 408.74,398.50 409.03,398.50 409.32,398.50 409.60,398.50 409.89,398.50 410.18,398.50 410.46,398.50 410.75,398.50 411.04,398.50 411.32,398.50 411.61,398.50 411.90,398.50 412.19,398.50 412.47,398.50 412.76,398.50 413.05,398.50 413.33,398.50 413.62,398.50 413.91,398.50 414.19,398.50 414.48,398.50 414.77,398.50 415.06,398.50 415.34,398.50 415.63,398.50 415.92,398.50 416.20,398.50 416.49,398.50 416.78,398.50 417.06,398.50 417.35,398.50 417.64,398.50 417.93,398.50 418.21,398.50 418.50,398.50 418.79,398.50 419.07,398.50 419.36,398.50 419.65,398.50 419.94,398.50 420.22,398.50 420.51,398.50 420.80,398.50 421.08,398.50 421.37,398.50 421.66,398.50 421.94,398.50 422.23,398.50 422.52,398.50 422.81,398.50 423.09,398.50 423.38,398.50 423.67,398.50 423.95,398.50 424.24,398.50 424.53,398.50 424.81,398.50 425.10,398.50 425.39,398.50 425.68,398.50 425.96,398.50 426.25,398.50 426.54,398.50 426.82,398.50 427.11,398.50 427.40,398.50 427.68,398.50 427.97,398.50 428.26,398.50 428.55,398.50 428.83,398.50 429.12,398.50 429.41,398.50 429.69,398.50 429.98,398.50 430.27,398.50 430.55,398.50 430.84,398.50 431.13,398.50 431.42,398.50 431.70,398.50 431.99,398.50 432.28,398.50 432.56,398.50 432.85,398.50 433.14,398.50 433.42,398.50 433.71,398.50 434.00,398.50 434.28,398.50 434.57,398.50 434.86,398.50 435.15,398.50 435.43,398.50 435.72,398.50 436.01,398.50 436.29,398.50 436.58,398.50 436.87,398.50 437.15,398.50 437.44,398.50 437.73,398.50 438.02,398.50 438.30,398.50 438.59,398.50 438.88,398.50 439.16,398.50 439.45,398.50 439.74,398.50 440.02,398.50 440.31,398.50 440.60,398.50 440.89,398.50 441.17,398.50 441.46,398.50 441.75,398.50 442.03,398.50 442.32,398.50 442.61,398.50 442.89,398.50 443.18,398.50 443.47,398.50 443.76,398.50 444.04,398.50 444.33,398.50 444.62,398.50 444.90,398.50 445.19,398.50 445.48,398.50 445.76,398.50 446.05,398.50 446.34,398.50 446.63,398.50 446.91,398.50 447.20,398.50 447.49,398.50 447.77,398.50 448.06,398.50 448.35,398.50 448.63,398.50 448.92,398.50 449.21,398.50 449.50,398.50 449.78,398.50 450.07,398.50 450.36,398.50 450.64,398.50 450.93,398.50 451.22,398.50 451.50,398.50 451.79,398.50 452.08,398.50 452.37,398.49 452.65,398.49 452.94,398.49 453.23,398.48 453.51,398.47 453.80,398.46 454.09,398.45 454.38,398.43 454.66,398.40 454.95,398.37 455.24,398.32 455.52,398.27 455.81,398.20 456.10,398.12 456.38,398.03 456.67,397.91 456.96,397.78 457.25,397.63 457.53,397.46 457.82,397.27 458.11,397.06 458.39,396.84 458.68,396.61 458.97,396.38 459.25,396.14 459.54,395.91 459.83,395.70 460.12,395.50 460.40,395.33 460.69,395.19 460.98,395.09 461.26,395.02 461.55,395.00 461.84,395.02 462.12,395.09 462.41,395.19 462.70,395.33 462.99,395.50 463.27,395.70 463.56,395.91 463.85,396.14 464.13,396.38 464.42,396.61 464.71,396.84 464.99,397.06 465.28,397.27 465.57,397.46 465.86,397.63 466.14,397.78 466.43,397.91 466.72,398.03 467.00,398.12 467.29,398.20 467.58,398.27 467.86,398.32 468.15,398.37 468.44,398.40 468.73,398.43 469.01,398.45 469.30,398.46 469.59,398.47 469.87,398.48 470.16,398.49 470.45,398.49 470.73,398.49 471.02,398.50 471.31,398.50 471.60,398.50 471.88,398.50 472.17,398.50 472.46,398.50 472.74,398.50 473.03,398.50 473.32,398.50 473.60,398.50 473.89,398.50 474.18,398.50 474.47,398.50 474.75,398.50 475.04,398.50 475.33,398.50 475.61,398.50 475.90,398.50 476.19,398.50 476.47,398.50 476.76,398.50 477.05,398.50 477.34,398.50 477.62,398.50 477.91,398.50 478.20,398.50 478.48,398.50 478.77,398.50 479.06,398.50 479.34,398.50 479.63,398.50 479.92,398.50 480.21,398.50 480.49,398.50 480.78,398.50 481.07,398.50 481.35,398.50 481.64,398.50 481.93,398.50 482.21,398.50 482.50,398.50 482.79,398.50 483.08,398.50 483.36,398.50 483.65,398.50 483.94,398.50 484.22,398.50 484.51,398.50 484.80,398.50 485.08,398.50 485.37,398.50 485.66,398.50 485.95,398.50 486.23,398.50 486.52,398.50 486.81,398.50 487.09,398.50 487.38,398.50 487.67,398.50 487.95,398.50 488.24,398.50 488.53,398.50 488.82,398.50 489.10,398.50 489.39,398.50 489.68,398.50 489.96,398.50 490.25,398.50 490.54,398.50 490.82,398.50 491.11,398.50 491.40,398.50 491.69,398.50 491.97,398.50 492.26,398.50 492.55,398.50 492.83,398.50 493.12,398.50 493.41,398.50 493.69,398.50 493.98,398.50 494.27,398.50 494.56,398.50 494.84,398.50 495.13,398.50 495.42,398.50 495.70,398.50 495.99,398.50 496.28,398.50 496.56,398.50 496.85,398.50 497.14,398.50 497.43,398.50 497.71,398.50 498.00,398.50 498.29,398.50 498.57,398.50 498.86,398.50 499.15,398.50 499.43,398.50 499.72,398.50 500.01,398.50 500.30,398.50 500.58,398.50 500.87,398.50 501.16,398.50 501.44,398.50 501.73,398.50 502.02,398.50 502.30,398.50 502.59,398.50 502.88,398.50 503.17,398.50 503.45,398.50 503.74,398.50 504.03,398.50 504.31,398.50 504.60,398.50" fill="none" stroke="#7cc064" stroke-width="0.8" stroke-linejoin="round" />
<text x="320.20" y="390.30" font-size="5.2" text-anchor="start" stroke="#1a1a1a" stroke-width="0.05" fill="#1a1a1a" textLength="35.900000000000034" lengthAdjust="spacingAndGlyphs" transform="rotate(-90 320.20 390.30)" >1 - HbH - 2,574</text>
<text x="326.60" y="390.30" font-size="5.2" text-anchor="start" stroke="#1a1a1a" stroke-width="0.05" fill="#1a1a1a" textLength="21.600000000000023" lengthAdjust="spacingAndGlyphs" transform="rotate(-90 326.60 390.30)" >2 - 3,700</text>
<text x="331.80" y="391.20" font-size="5.2" text-anchor="start" stroke="#1a1a1a" stroke-width="0.05" fill="#1a1a1a" textLength="20.80000000000001" lengthAdjust="spacingAndGlyphs" transform="rotate(-90 331.80 391.20)" >3 - 4,519</text>
<text x="342.20" y="375.60" font-size="5.2" text-anchor="start" stroke="#1a1a1a" stroke-width="0.05" fill="#1a1a1a" textLength="37.200000000000045" lengthAdjust="spacingAndGlyphs" transform="rotate(-90 342.20 375.60)" >4 - HbF - 6,290</text>
<text x="347.90" y="393.00" font-size="5.2" text-anchor="start" stroke="#1a1a1a" stroke-width="0.05" fill="#1a1a1a" textLength="20.30000000000001" lengthAdjust="spacingAndGlyphs" transform="rotate(-90 347.90 393.00)" >5 - 7,382</text>
<text x="353.70" y="386.00" font-size="5.2" text-anchor="start" stroke="#1a1a1a" stroke-width="0.05" fill="#1a1a1a" textLength="22" lengthAdjust="spacingAndGlyphs" transform="rotate(-90 353.70 386.00)" >6 - 8,683</text>
<text x="358.60" y="391.20" font-size="5.2" text-anchor="start" stroke="#1a1a1a" stroke-width="0.05" fill="#1a1a1a" textLength="22.5" lengthAdjust="spacingAndGlyphs" transform="rotate(-90 358.60 391.20)" >7 - 9,205</text>
<text x="361.70" y="315.00" font-size="5.2" text-anchor="start" stroke="#1a1a1a" stroke-width="0.05" fill="#1a1a1a" textLength="20.5" lengthAdjust="spacingAndGlyphs" transform="rotate(-90 361.70 315.00)" >8 - HbA1 -</text>
<text x="367.30" y="312.50" font-size="5.2" text-anchor="start" stroke="#1a1a1a" stroke-width="0.05" fill="#1a1a1a" textLength="15.5" lengthAdjust="spacingAndGlyphs" transform="rotate(-90 367.30 312.50)" >10,267</text>
<text x="378.50" y="393.80" font-size="5.2" text-anchor="start" stroke="#1a1a1a" stroke-width="0.05" fill="#1a1a1a" textLength="40.80000000000001" lengthAdjust="spacingAndGlyphs" transform="rotate(-90 378.50 393.80)" >9 - HbA2 - 12,767</text>
<line x1="43.00" y1="467.20" x2="43.00" y2="620.30" stroke="#000" stroke-width="1.6" />
<line x1="42.50" y1="619.50" x2="237.17" y2="619.50" stroke="#000" stroke-width="1.6" />
<line x1="40.40" y1="619.20" x2="43.00" y2="619.20" stroke="#000" stroke-width="0.6" />
<line x1="41.60" y1="616.23" x2="43.00" y2="616.23" stroke="#000" stroke-width="0.6" />
<line x1="41.60" y1="613.25" x2="43.00" y2="613.25" stroke="#000" stroke-width="0.6" />
<line x1="41.60" y1="610.28" x2="43.00" y2="610.28" stroke="#000" stroke-width="0.6" />
<line x1="41.60" y1="607.30" x2="43.00" y2="607.30" stroke="#000" stroke-width="0.6" />
<line x1="40.40" y1="604.33" x2="43.00" y2="604.33" stroke="#000" stroke-width="0.6" />
<line x1="41.60" y1="601.36" x2="43.00" y2="601.36" stroke="#000" stroke-width="0.6" />
<line x1="41.60" y1="598.38" x2="43.00" y2="598.38" stroke="#000" stroke-width="0.6" />
<line x1="41.60" y1="595.41" x2="43.00" y2="595.41" stroke="#000" stroke-width="0.6" />
<line x1="41.60" y1="592.43" x2="43.00" y2="592.43" stroke="#000" stroke-width="0.6" />
<line x1="40.40" y1="589.46" x2="43.00" y2="589.46" stroke="#000" stroke-width="0.6" />
<line x1="41.60" y1="586.49" x2="43.00" y2="586.49" stroke="#000" stroke-width="0.6" />
<line x1="41.60" y1="583.51" x2="43.00" y2="583.51" stroke="#000" stroke-width="0.6" />
<line x1="41.60" y1="580.54" x2="43.00" y2="580.54" stroke="#000" stroke-width="0.6" />
<line x1="41.60" y1="577.56" x2="43.00" y2="577.56" stroke="#000" stroke-width="0.6" />
<line x1="40.40" y1="574.59" x2="43.00" y2="574.59" stroke="#000" stroke-width="0.6" />
<line x1="41.60" y1="571.62" x2="43.00" y2="571.62" stroke="#000" stroke-width="0.6" />
<line x1="41.60" y1="568.64" x2="43.00" y2="568.64" stroke="#000" stroke-width="0.6" />
<line x1="41.60" y1="565.67" x2="43.00" y2="565.67" stroke="#000" stroke-width="0.6" />
<line x1="41.60" y1="562.69" x2="43.00" y2="562.69" stroke="#000" stroke-width="0.6" />
<line x1="40.40" y1="559.72" x2="43.00" y2="559.72" stroke="#000" stroke-width="0.6" />
<line x1="41.60" y1="556.75" x2="43.00" y2="556.75" stroke="#000" stroke-width="0.6" />
<line x1="41.60" y1="553.77" x2="43.00" y2="553.77" stroke="#000" stroke-width="0.6" />
<line x1="41.60" y1="550.80" x2="43.00" y2="550.80" stroke="#000" stroke-width="0.6" />
<line x1="41.60" y1="547.82" x2="43.00" y2="547.82" stroke="#000" stroke-width="0.6" />
<line x1="40.40" y1="544.85" x2="43.00" y2="544.85" stroke="#000" stroke-width="0.6" />
<line x1="41.60" y1="541.88" x2="43.00" y2="541.88" stroke="#000" stroke-width="0.6" />
<line x1="41.60" y1="538.90" x2="43.00" y2="538.90" stroke="#000" stroke-width="0.6" />
<line x1="41.60" y1="535.93" x2="43.00" y2="535.93" stroke="#000" stroke-width="0.6" />
<line x1="41.60" y1="532.95" x2="43.00" y2="532.95" stroke="#000" stroke-width="0.6" />
<line x1="40.40" y1="529.98" x2="43.00" y2="529.98" stroke="#000" stroke-width="0.6" />
<line x1="41.60" y1="527.01" x2="43.00" y2="527.01" stroke="#000" stroke-width="0.6" />
<line x1="41.60" y1="524.03" x2="43.00" y2="524.03" stroke="#000" stroke-width="0.6" />
<line x1="41.60" y1="521.06" x2="43.00" y2="521.06" stroke="#000" stroke-width="0.6" />
<line x1="41.60" y1="518.08" x2="43.00" y2="518.08" stroke="#000" stroke-width="0.6" />
<line x1="40.40" y1="515.11" x2="43.00" y2="515.11" stroke="#000" stroke-width="0.6" />
<line x1="41.60" y1="512.14" x2="43.00" y2="512.14" stroke="#000" stroke-width="0.6" />
<line x1="41.60" y1="509.16" x2="43.00" y2="509.16" stroke="#000" stroke-width="0.6" />
<line x1="41.60" y1="506.19" x2="43.00" y2="506.19" stroke="#000" stroke-width="0.6" />
<line x1="41.60" y1="503.21" x2="43.00" y2="503.21" stroke="#000" stroke-width="0.6" />
<line x1="40.40" y1="500.24" x2="43.00" y2="500.24" stroke="#000" stroke-width="0.6" />
<line x1="41.60" y1="497.27" x2="43.00" y2="497.27" stroke="#000" stroke-width="0.6" />
<line x1="41.60" y1="494.29" x2="43.00" y2="494.29" stroke="#000" stroke-width="0.6" />
<line x1="41.60" y1="491.32" x2="43.00" y2="491.32" stroke="#000" stroke-width="0.6" />
<line x1="41.60" y1="488.34" x2="43.00" y2="488.34" stroke="#000" stroke-width="0.6" />
<line x1="40.40" y1="485.37" x2="43.00" y2="485.37" stroke="#000" stroke-width="0.6" />
<line x1="41.60" y1="482.40" x2="43.00" y2="482.40" stroke="#000" stroke-width="0.6" />
<line x1="41.60" y1="479.42" x2="43.00" y2="479.42" stroke="#000" stroke-width="0.6" />
<line x1="41.60" y1="476.45" x2="43.00" y2="476.45" stroke="#000" stroke-width="0.6" />
<line x1="41.60" y1="473.47" x2="43.00" y2="473.47" stroke="#000" stroke-width="0.6" />
<line x1="40.40" y1="470.50" x2="43.00" y2="470.50" stroke="#000" stroke-width="0.6" />
<text x="37.10" y="622.20" font-size="8.4" text-anchor="end" stroke="#111" stroke-width="0.12" fill="#111" >0</text>
<text x="37.10" y="607.33" font-size="8.4" text-anchor="end" stroke="#111" stroke-width="0.12" fill="#111" >10</text>
<text x="37.10" y="592.46" font-size="8.4" text-anchor="end" stroke="#111" stroke-width="0.12" fill="#111" >20</text>
<text x="37.10" y="577.59" font-size="8.4" text-anchor="end" stroke="#111" stroke-width="0.12" fill="#111" >30</text>
<text x="37.10" y="562.72" font-size="8.4" text-anchor="end" stroke="#111" stroke-width="0.12" fill="#111" >40</text>
<text x="37.10" y="547.85" font-size="8.4" text-anchor="end" stroke="#111" stroke-width="0.12" fill="#111" >50</text>
<text x="37.10" y="532.98" font-size="8.4" text-anchor="end" stroke="#111" stroke-width="0.12" fill="#111" >60</text>
<text x="37.10" y="518.11" font-size="8.4" text-anchor="end" stroke="#111" stroke-width="0.12" fill="#111" >70</text>
<text x="37.10" y="503.24" font-size="8.4" text-anchor="end" stroke="#111" stroke-width="0.12" fill="#111" >80</text>
<text x="37.10" y="488.37" font-size="8.4" text-anchor="end" stroke="#111" stroke-width="0.12" fill="#111" >90</text>
<text x="37.10" y="473.50" font-size="8.4" text-anchor="end" stroke="#111" stroke-width="0.12" fill="#111" >100</text>
<line x1="43.00" y1="619.50" x2="43.00" y2="622.10" stroke="#000" stroke-width="0.6" />
<line x1="48.80" y1="619.50" x2="48.80" y2="620.90" stroke="#000" stroke-width="0.6" />
<line x1="54.59" y1="619.50" x2="54.59" y2="620.90" stroke="#000" stroke-width="0.6" />
<line x1="60.39" y1="619.50" x2="60.39" y2="620.90" stroke="#000" stroke-width="0.6" />
<line x1="66.18" y1="619.50" x2="66.18" y2="620.90" stroke="#000" stroke-width="0.6" />
<line x1="71.98" y1="619.50" x2="71.98" y2="622.10" stroke="#000" stroke-width="0.6" />
<line x1="77.78" y1="619.50" x2="77.78" y2="620.90" stroke="#000" stroke-width="0.6" />
<line x1="83.57" y1="619.50" x2="83.57" y2="620.90" stroke="#000" stroke-width="0.6" />
<line x1="89.37" y1="619.50" x2="89.37" y2="620.90" stroke="#000" stroke-width="0.6" />
<line x1="95.16" y1="619.50" x2="95.16" y2="620.90" stroke="#000" stroke-width="0.6" />
<line x1="100.96" y1="619.50" x2="100.96" y2="622.10" stroke="#000" stroke-width="0.6" />
<line x1="106.76" y1="619.50" x2="106.76" y2="620.90" stroke="#000" stroke-width="0.6" />
<line x1="112.55" y1="619.50" x2="112.55" y2="620.90" stroke="#000" stroke-width="0.6" />
<line x1="118.35" y1="619.50" x2="118.35" y2="620.90" stroke="#000" stroke-width="0.6" />
<line x1="124.14" y1="619.50" x2="124.14" y2="620.90" stroke="#000" stroke-width="0.6" />
<line x1="129.94" y1="619.50" x2="129.94" y2="622.10" stroke="#000" stroke-width="0.6" />
<line x1="135.74" y1="619.50" x2="135.74" y2="620.90" stroke="#000" stroke-width="0.6" />
<line x1="141.53" y1="619.50" x2="141.53" y2="620.90" stroke="#000" stroke-width="0.6" />
<line x1="147.33" y1="619.50" x2="147.33" y2="620.90" stroke="#000" stroke-width="0.6" />
<line x1="153.12" y1="619.50" x2="153.12" y2="620.90" stroke="#000" stroke-width="0.6" />
<line x1="158.92" y1="619.50" x2="158.92" y2="622.10" stroke="#000" stroke-width="0.6" />
<line x1="164.72" y1="619.50" x2="164.72" y2="620.90" stroke="#000" stroke-width="0.6" />
<line x1="170.51" y1="619.50" x2="170.51" y2="620.90" stroke="#000" stroke-width="0.6" />
<line x1="176.31" y1="619.50" x2="176.31" y2="620.90" stroke="#000" stroke-width="0.6" />
<line x1="182.10" y1="619.50" x2="182.10" y2="620.90" stroke="#000" stroke-width="0.6" />
<line x1="187.90" y1="619.50" x2="187.90" y2="622.10" stroke="#000" stroke-width="0.6" />
<line x1="193.70" y1="619.50" x2="193.70" y2="620.90" stroke="#000" stroke-width="0.6" />
<line x1="199.49" y1="619.50" x2="199.49" y2="620.90" stroke="#000" stroke-width="0.6" />
<line x1="205.29" y1="619.50" x2="205.29" y2="620.90" stroke="#000" stroke-width="0.6" />
<line x1="211.08" y1="619.50" x2="211.08" y2="620.90" stroke="#000" stroke-width="0.6" />
<line x1="216.88" y1="619.50" x2="216.88" y2="622.10" stroke="#000" stroke-width="0.6" />
<line x1="222.68" y1="619.50" x2="222.68" y2="620.90" stroke="#000" stroke-width="0.6" />
<line x1="228.47" y1="619.50" x2="228.47" y2="620.90" stroke="#000" stroke-width="0.6" />
<line x1="234.27" y1="619.50" x2="234.27" y2="620.90" stroke="#000" stroke-width="0.6" />
<text x="43.00" y="631.70" font-size="8.4" text-anchor="middle" stroke="#111" stroke-width="0.12" fill="#111" >0</text>
<text x="71.98" y="631.70" font-size="8.4" text-anchor="middle" stroke="#111" stroke-width="0.12" fill="#111" >20</text>
<text x="71.98" y="641.50" font-size="8.4" text-anchor="middle" stroke="#111" stroke-width="0.12" fill="#111" >2,66</text>
<text x="100.96" y="631.70" font-size="8.4" text-anchor="middle" stroke="#111" stroke-width="0.12" fill="#111" >40</text>
<text x="100.96" y="641.50" font-size="8.4" text-anchor="middle" stroke="#111" stroke-width="0.12" fill="#111" >5,33</text>
<text x="129.94" y="631.70" font-size="8.4" text-anchor="middle" stroke="#111" stroke-width="0.12" fill="#111" >60</text>
<text x="129.94" y="641.50" font-size="8.4" text-anchor="middle" stroke="#111" stroke-width="0.12" fill="#111" >8,00</text>
<text x="158.92" y="631.70" font-size="8.4" text-anchor="middle" stroke="#111" stroke-width="0.12" fill="#111" >80</text>
<text x="158.92" y="641.50" font-size="8.4" text-anchor="middle" stroke="#111" stroke-width="0.12" fill="#111" >10,7</text>
<text x="187.90" y="631.70" font-size="8.4" text-anchor="middle" stroke="#111" stroke-width="0.12" fill="#111" >100</text>
<text x="187.90" y="641.50" font-size="8.4" text-anchor="middle" stroke="#111" stroke-width="0.12" fill="#111" >13,3</text>
<text x="216.88" y="631.70" font-size="8.4" text-anchor="middle" stroke="#111" stroke-width="0.12" fill="#111" >120</text>
<text x="216.88" y="641.50" font-size="8.4" text-anchor="middle" stroke="#111" stroke-width="0.12" fill="#111" >16,0</text>
<text x="16.00" y="542.80" font-size="7.8" text-anchor="middle" stroke="#111" stroke-width="0.25" fill="#111" textLength="57.6" lengthAdjust="spacingAndGlyphs" transform="rotate(-90 16.00 542.80)" >Oxyhemoglobin (%)</text>
<text x="188.10" y="612.40" font-size="7.8" text-anchor="middle" stroke="#222" stroke-width="0.12" fill="#222" textLength="59.3" lengthAdjust="spacingAndGlyphs" >cRBC culture dish</text>
<g fill="#111" stroke="#111" stroke-width="0.25" font-size="8.2"><text x="117.50" y="655.2" textLength="9.2" lengthAdjust="spacingAndGlyphs">p 0</text><text x="127.90" y="657.6" font-size="4.6" stroke-width="0.15">2</text><text x="131.90" y="655.2" textLength="31.4" lengthAdjust="spacingAndGlyphs">(Torr; kPa)</text></g>
<polyline points="48.65,619.20 49.38,618.26 50.10,617.28 50.82,616.27 51.55,615.23 52.27,614.16 53.00,613.05 53.72,611.92 54.45,610.75 55.17,609.55 55.90,608.29 56.62,606.99 57.35,605.64 58.07,604.25 58.79,602.84 59.52,601.41 60.24,599.96 60.97,598.51 61.69,597.06 62.42,595.62 63.14,594.20 63.87,592.81 64.59,591.43 65.31,590.07 66.04,588.72 66.76,587.36 67.49,586.00 68.21,584.61 68.94,583.20 69.66,581.75 70.39,580.26 71.11,578.72 71.84,577.12 72.56,575.43 73.28,573.65 74.01,571.80 74.73,569.89 75.46,567.94 76.18,565.97 76.91,564.01 77.63,562.06 78.36,560.14 79.08,558.19 79.80,556.20 80.53,554.20 81.25,552.20 81.98,550.23 82.70,548.30 83.43,546.43 84.15,544.64 84.88,542.95 85.60,541.29 86.33,539.67 87.05,538.08 87.77,536.53 88.50,535.02 89.22,533.54 89.95,532.10 90.67,530.70 91.40,529.33 92.12,528.01 92.85,526.72 93.57,525.46 94.29,524.23 95.02,523.02 95.74,521.83 96.47,520.67 97.19,519.54 97.92,518.42 98.64,517.33 99.37,516.25 100.09,515.20 100.82,514.16 101.54,513.14 102.26,512.14 102.99,511.14 103.71,510.15 104.44,509.17 105.16,508.20 105.89,507.26 106.61,506.33 107.34,505.43 108.06,504.56 108.78,503.72 109.51,502.92 110.23,502.16 110.96,501.44 111.68,500.75 112.41,500.08 113.13,499.42 113.86,498.78 114.58,498.16 115.31,497.55 116.03,496.96 116.75,496.38 117.48,495.82 118.20,495.26 118.93,494.72 119.65,494.19 120.38,493.68 121.10,493.17 121.83,492.67 122.55,492.17 123.27,491.69 124.00,491.21 124.72,490.74 125.45,490.28 126.17,489.83 126.90,489.39 127.62,488.96 128.35,488.54 129.07,488.12 129.80,487.72 130.52,487.32 131.24,486.93 131.97,486.55 132.69,486.18 133.42,485.81 134.14,485.44 134.87,485.08 135.59,484.72 136.32,484.36 137.04,484.01 137.76,483.66 138.49,483.31 139.21,482.97 139.94,482.63 140.66,482.30 141.39,481.98 142.11,481.66 142.84,481.36 143.56,481.07 144.29,480.78 145.01,480.51 145.73,480.26 146.46,480.02 147.18,479.78 147.91,479.56 148.63,479.34 149.36,479.12 150.08,478.91 150.81,478.70 151.53,478.50 152.25,478.30 152.98,478.11 153.70,477.93 154.43,477.75 155.15,477.57 155.88,477.41 156.60,477.25 157.33,477.09 158.05,476.95 158.78,476.81 159.50,476.67 160.22,476.55 160.95,476.42 161.67,476.31 162.40,476.19 163.12,476.08 163.85,475.98 164.57,475.87 165.30,475.77 166.02,475.67 166.74,475.58 167.47,475.48 168.19,475.39 168.92,475.30 169.64,475.22 170.37,475.13 171.09,475.05 171.82,474.96 172.54,474.88 173.27,474.80 173.99,474.72 174.71,474.64 175.44,474.56 176.16,474.48 176.89,474.40 177.61,474.32 178.34,474.23 179.06,474.15 179.79,474.07 180.51,473.98 181.23,473.90 181.96,473.81 182.68,473.72 183.41,473.63 184.13,473.55 184.86,473.46 185.58,473.37 186.31,473.28 187.03,473.19 187.76,473.10 188.48,473.02 189.20,472.93 189.93,472.84 190.65,472.76 191.38,472.68 192.10,472.60 192.83,472.51 193.55,472.44 194.28,472.36 195.00,472.28 195.72,472.21 196.45,472.14 197.17,472.07 197.90,472.01 198.62,471.95 199.35,471.89 200.07,471.83 200.80,471.78 201.52,471.73 202.25,471.69 202.97,471.65 203.69,471.61 204.42,471.58 205.14,471.55 205.87,471.52 206.59,471.49 207.32,471.47 208.04,471.44 208.77,471.42 209.49,471.40 210.21,471.37 210.94,471.35 211.66,471.33 212.39,471.30 213.11,471.28 213.84,471.26 214.56,471.24 215.29,471.22 216.01,471.20 216.74,471.18 217.46,471.16 218.18,471.14 218.91,471.12 219.63,471.11 220.36,471.09 221.08,471.08 221.81,471.06 222.53,471.05 223.26,471.03 223.98,471.02 224.70,471.01 225.43,471.00 226.15,470.99 226.88,470.98 227.60,470.97 228.33,470.97 229.05,470.96 229.78,470.96 230.50,470.95 231.23,470.95 231.95,470.95 232.67,470.95" fill="none" stroke="#6bb33a" stroke-width="1.05" stroke-linejoin="round" />
<polyline points="49.52,619.20 50.24,618.60 50.97,617.93 51.69,617.20 52.42,616.41 53.14,615.57 53.87,614.68 54.59,613.74 55.32,612.74 56.04,611.62 56.77,610.42 57.49,609.14 58.21,607.79 58.94,606.39 59.66,604.95 60.39,603.49 61.11,602.01 61.84,600.53 62.56,599.07 63.29,597.64 64.01,596.23 64.73,594.83 65.46,593.43 66.18,592.02 66.91,590.60 67.63,589.16 68.36,587.70 69.08,586.20 69.81,584.66 70.53,583.08 71.26,581.44 71.98,579.75 72.70,577.95 73.43,576.06 74.15,574.09 74.88,572.06 75.60,570.00 76.33,567.92 77.05,565.85 77.78,563.80 78.50,561.78 79.22,559.71 79.95,557.61 80.67,555.51 81.40,553.41 82.12,551.34 82.85,549.32 83.57,547.37 84.30,545.51 85.02,543.73 85.75,541.99 86.47,540.28 87.19,538.62 87.92,536.99 88.64,535.40 89.37,533.84 90.09,532.33 90.82,530.86 91.54,529.43 92.27,528.05 92.99,526.70 93.72,525.38 94.44,524.09 95.16,522.82 95.89,521.58 96.61,520.37 97.34,519.18 98.06,518.02 98.79,516.88 99.51,515.76 100.24,514.66 100.96,513.58 101.68,512.52 102.41,511.48 103.13,510.45 103.86,509.43 104.58,508.42 105.31,507.42 106.03,506.45 106.76,505.50 107.48,504.58 108.20,503.69 108.93,502.85 109.65,502.04 110.38,501.27 111.10,500.56 111.83,499.86 112.55,499.19 113.28,498.53 114.00,497.89 114.73,497.27 115.45,496.67 116.17,496.08 116.90,495.50 117.62,494.94 118.35,494.39 119.07,493.86 119.80,493.33 120.52,492.82 121.25,492.32 121.97,491.82 122.70,491.33 123.42,490.85 124.14,490.37 124.87,489.90 125.59,489.44 126.32,488.99 127.04,488.55 127.77,488.12 128.49,487.69 129.22,487.28 129.94,486.87 130.66,486.48 131.39,486.09 132.11,485.71 132.84,485.34 133.56,484.98 134.29,484.63 135.01,484.28 135.74,483.94 136.46,483.60 137.19,483.26 137.91,482.93 138.63,482.60 139.36,482.28 140.08,481.97 140.81,481.66 141.53,481.37 142.26,481.08 142.98,480.79 143.71,480.52 144.43,480.26 145.15,480.00 145.88,479.76 146.60,479.52 147.33,479.30 148.05,479.08 148.78,478.86 149.50,478.65 150.23,478.44 150.95,478.24 151.68,478.04 152.40,477.85 153.12,477.66 153.85,477.48 154.57,477.30 155.30,477.13 156.02,476.96 156.75,476.80 157.47,476.64 158.20,476.49 158.92,476.35 159.64,476.21 160.37,476.07 161.09,475.94 161.82,475.81 162.54,475.68 163.27,475.56 163.99,475.44 164.72,475.32 165.44,475.20 166.17,475.09 166.89,474.98 167.61,474.87 168.34,474.76 169.06,474.66 169.79,474.56 170.51,474.46 171.24,474.36 171.96,474.26 172.69,474.17 173.41,474.08 174.13,473.98 174.86,473.90 175.58,473.81 176.31,473.72 177.03,473.64 177.76,473.56 178.48,473.47 179.21,473.39 179.93,473.31 180.66,473.23 181.38,473.15 182.10,473.06 182.83,472.98 183.55,472.90 184.28,472.82 185.00,472.74 185.73,472.66 186.45,472.58 187.18,472.50 187.90,472.42 188.62,472.34 189.35,472.26 190.07,472.19 190.80,472.11 191.52,472.04 192.25,471.97 192.97,471.90 193.70,471.83 194.42,471.76 195.15,471.70 195.87,471.64 196.59,471.58 197.32,471.52 198.04,471.47 198.77,471.42 199.49,471.37 200.22,471.32 200.94,471.28 201.67,471.24 202.39,471.20 203.11,471.17 203.84,471.14 204.56,471.12 205.29,471.09 206.01,471.08 206.74,471.06 207.46,471.04 208.19,471.02 208.91,471.00 209.64,470.98 210.36,470.96 211.08,470.94 211.81,470.93 212.53,470.91 213.26,470.89 213.98,470.88 214.71,470.86 215.43,470.85 216.16,470.83 216.88,470.82 217.60,470.80 218.33,470.79 219.05,470.78 219.78,470.76 220.50,470.75 221.23,470.74 221.95,470.73 222.68,470.72 223.40,470.71 224.12,470.70 224.85,470.69 225.57,470.69 226.30,470.68 227.02,470.67 227.75,470.67 228.47,470.66 229.20,470.66 229.92,470.65 230.65,470.65 231.37,470.65 232.09,470.65 232.82,470.65" fill="none" stroke="#5aa6e0" stroke-width="1.05" stroke-linejoin="round" />
<polyline points="48.65,619.20 49.38,618.34 50.10,617.42 50.82,616.47 51.55,615.47 52.27,614.43 53.00,613.34 53.72,612.22 54.45,611.05 55.17,609.84 55.90,608.54 56.62,607.17 57.35,605.73 58.07,604.24 58.79,602.71 59.52,601.16 60.24,599.59 60.97,598.03 61.69,596.48 62.42,594.95 63.14,593.47 63.87,592.03 64.59,590.63 65.31,589.26 66.04,587.90 66.76,586.55 67.49,585.20 68.21,583.82 68.94,582.43 69.66,580.99 70.39,579.51 71.11,577.98 71.84,576.37 72.56,574.68 73.28,572.89 74.01,571.01 74.73,569.09 75.46,567.12 76.18,565.13 76.91,563.15 77.63,561.18 78.36,559.24 79.08,557.27 79.80,555.26 80.53,553.24 81.25,551.22 81.98,549.23 82.70,547.28 83.43,545.40 84.15,543.61 84.88,541.90 85.60,540.24 86.33,538.62 87.05,537.04 87.77,535.49 88.50,533.98 89.22,532.50 89.95,531.07 90.67,529.66 91.40,528.30 92.12,526.97 92.85,525.67 93.57,524.40 94.29,523.16 95.02,521.94 95.74,520.74 96.47,519.57 97.19,518.42 97.92,517.29 98.64,516.18 99.37,515.10 100.09,514.03 100.82,512.98 101.54,511.96 102.26,510.95 102.99,509.95 103.71,508.95 104.44,507.97 105.16,507.00 105.89,506.05 106.61,505.13 107.34,504.23 108.06,503.36 108.78,502.52 109.51,501.72 110.23,500.97 110.96,500.26 111.68,499.57 112.41,498.90 113.13,498.25 113.86,497.62 114.58,497.01 115.31,496.41 116.03,495.82 116.75,495.25 117.48,494.69 118.20,494.15 118.93,493.61 119.65,493.09 120.38,492.58 121.10,492.08 121.83,491.59 122.55,491.11 123.27,490.63 124.00,490.17 124.72,489.70 125.45,489.25 126.17,488.81 126.90,488.38 127.62,487.96 128.35,487.55 129.07,487.14 129.80,486.75 130.52,486.36 131.24,485.99 131.97,485.62 132.69,485.25 133.42,484.90 134.14,484.55 134.87,484.20 135.59,483.86 136.32,483.52 137.04,483.18 137.76,482.85 138.49,482.52 139.21,482.20 139.94,481.88 140.66,481.57 141.39,481.27 142.11,480.97 142.84,480.69 143.56,480.41 144.29,480.15 145.01,479.89 145.73,479.65 146.46,479.42 147.18,479.20 147.91,478.99 148.63,478.78 149.36,478.57 150.08,478.37 150.81,478.18 151.53,477.99 152.25,477.81 152.98,477.63 153.70,477.46 154.43,477.29 155.15,477.12 155.88,476.96 156.60,476.81 157.33,476.66 158.05,476.51 158.78,476.37 159.50,476.23 160.22,476.10 160.95,475.97 161.67,475.84 162.40,475.71 163.12,475.59 163.85,475.47 164.57,475.35 165.30,475.23 166.02,475.12 166.74,475.01 167.47,474.90 168.19,474.79 168.92,474.69 169.64,474.58 170.37,474.48 171.09,474.38 171.82,474.29 172.54,474.19 173.27,474.10 173.99,474.01 174.71,473.92 175.44,473.83 176.16,473.74 176.89,473.66 177.61,473.57 178.34,473.49 179.06,473.41 179.79,473.33 180.51,473.24 181.23,473.16 181.96,473.08 182.68,472.99 183.41,472.91 184.13,472.83 184.86,472.74 185.58,472.66 186.31,472.58 187.03,472.50 187.76,472.41 188.48,472.33 189.20,472.26 189.93,472.18 190.65,472.10 191.38,472.03 192.10,471.95 192.83,471.88 193.55,471.81 194.28,471.75 195.00,471.68 195.72,471.62 196.45,471.56 197.17,471.50 197.90,471.45 198.62,471.40 199.35,471.35 200.07,471.30 200.80,471.26 201.52,471.23 202.25,471.19 202.97,471.16 203.69,471.14 204.42,471.11 205.14,471.10 205.87,471.08 206.59,471.07 207.32,471.06 208.04,471.04 208.77,471.03 209.49,471.02 210.21,471.01 210.94,470.99 211.66,470.98 212.39,470.97 213.11,470.96 213.84,470.95 214.56,470.94 215.29,470.93 216.01,470.92 216.74,470.91 217.46,470.90 218.18,470.89 218.91,470.88 219.63,470.87 220.36,470.87 221.08,470.86 221.81,470.85 222.53,470.84 223.26,470.84 223.98,470.83 224.70,470.83 225.43,470.82 226.15,470.82 226.88,470.81 227.60,470.81 228.33,470.81 229.05,470.80 229.78,470.80 230.50,470.80 231.23,470.80 231.95,470.80 232.67,470.80" fill="none" stroke="#1f4e8c" stroke-width="1.05" stroke-linejoin="round" />
<line x1="233.00" y1="470.80" x2="233.00" y2="478.50" stroke="#1f4e8c" stroke-width="1" />
<line x1="281.30" y1="467.20" x2="281.30" y2="620.30" stroke="#000" stroke-width="1.6" />
<line x1="280.80" y1="619.50" x2="477.60" y2="619.50" stroke="#000" stroke-width="1.6" />
<line x1="278.70" y1="619.20" x2="281.30" y2="619.20" stroke="#000" stroke-width="0.6" />
<line x1="279.90" y1="616.23" x2="281.30" y2="616.23" stroke="#000" stroke-width="0.6" />
<line x1="279.90" y1="613.25" x2="281.30" y2="613.25" stroke="#000" stroke-width="0.6" />
<line x1="279.90" y1="610.28" x2="281.30" y2="610.28" stroke="#000" stroke-width="0.6" />
<line x1="279.90" y1="607.30" x2="281.30" y2="607.30" stroke="#000" stroke-width="0.6" />
<line x1="278.70" y1="604.33" x2="281.30" y2="604.33" stroke="#000" stroke-width="0.6" />
<line x1="279.90" y1="601.36" x2="281.30" y2="601.36" stroke="#000" stroke-width="0.6" />
<line x1="279.90" y1="598.38" x2="281.30" y2="598.38" stroke="#000" stroke-width="0.6" />
<line x1="279.90" y1="595.41" x2="281.30" y2="595.41" stroke="#000" stroke-width="0.6" />
<line x1="279.90" y1="592.43" x2="281.30" y2="592.43" stroke="#000" stroke-width="0.6" />
<line x1="278.70" y1="589.46" x2="281.30" y2="589.46" stroke="#000" stroke-width="0.6" />
<line x1="279.90" y1="586.49" x2="281.30" y2="586.49" stroke="#000" stroke-width="0.6" />
<line x1="279.90" y1="583.51" x2="281.30" y2="583.51" stroke="#000" stroke-width="0.6" />
<line x1="279.90" y1="580.54" x2="281.30" y2="580.54" stroke="#000" stroke-width="0.6" />
<line x1="279.90" y1="577.56" x2="281.30" y2="577.56" stroke="#000" stroke-width="0.6" />
<line x1="278.70" y1="574.59" x2="281.30" y2="574.59" stroke="#000" stroke-width="0.6" />
<line x1="279.90" y1="571.62" x2="281.30" y2="571.62" stroke="#000" stroke-width="0.6" />
<line x1="279.90" y1="568.64" x2="281.30" y2="568.64" stroke="#000" stroke-width="0.6" />
<line x1="279.90" y1="565.67" x2="281.30" y2="565.67" stroke="#000" stroke-width="0.6" />
<line x1="279.90" y1="562.69" x2="281.30" y2="562.69" stroke="#000" stroke-width="0.6" />
<line x1="278.70" y1="559.72" x2="281.30" y2="559.72" stroke="#000" stroke-width="0.6" />
<line x1="279.90" y1="556.75" x2="281.30" y2="556.75" stroke="#000" stroke-width="0.6" />
<line x1="279.90" y1="553.77" x2="281.30" y2="553.77" stroke="#000" stroke-width="0.6" />
<line x1="279.90" y1="550.80" x2="281.30" y2="550.80" stroke="#000" stroke-width="0.6" />
<line x1="279.90" y1="547.82" x2="281.30" y2="547.82" stroke="#000" stroke-width="0.6" />
<line x1="278.70" y1="544.85" x2="281.30" y2="544.85" stroke="#000" stroke-width="0.6" />
<line x1="279.90" y1="541.88" x2="281.30" y2="541.88" stroke="#000" stroke-width="0.6" />
<line x1="279.90" y1="538.90" x2="281.30" y2="538.90" stroke="#000" stroke-width="0.6" />
<line x1="279.90" y1="535.93" x2="281.30" y2="535.93" stroke="#000" stroke-width="0.6" />
<line x1="279.90" y1="532.95" x2="281.30" y2="532.95" stroke="#000" stroke-width="0.6" />
<line x1="278.70" y1="529.98" x2="281.30" y2="529.98" stroke="#000" stroke-width="0.6" />
<line x1="279.90" y1="527.01" x2="281.30" y2="527.01" stroke="#000" stroke-width="0.6" />
<line x1="279.90" y1="524.03" x2="281.30" y2="524.03" stroke="#000" stroke-width="0.6" />
<line x1="279.90" y1="521.06" x2="281.30" y2="521.06" stroke="#000" stroke-width="0.6" />
<line x1="279.90" y1="518.08" x2="281.30" y2="518.08" stroke="#000" stroke-width="0.6" />
<line x1="278.70" y1="515.11" x2="281.30" y2="515.11" stroke="#000" stroke-width="0.6" />
<line x1="279.90" y1="512.14" x2="281.30" y2="512.14" stroke="#000" stroke-width="0.6" />
<line x1="279.90" y1="509.16" x2="281.30" y2="509.16" stroke="#000" stroke-width="0.6" />
<line x1="279.90" y1="506.19" x2="281.30" y2="506.19" stroke="#000" stroke-width="0.6" />
<line x1="279.90" y1="503.21" x2="281.30" y2="503.21" stroke="#000" stroke-width="0.6" />
<line x1="278.70" y1="500.24" x2="281.30" y2="500.24" stroke="#000" stroke-width="0.6" />
<line x1="279.90" y1="497.27" x2="281.30" y2="497.27" stroke="#000" stroke-width="0.6" />
<line x1="279.90" y1="494.29" x2="281.30" y2="494.29" stroke="#000" stroke-width="0.6" />
<line x1="279.90" y1="491.32" x2="281.30" y2="491.32" stroke="#000" stroke-width="0.6" />
<line x1="279.90" y1="488.34" x2="281.30" y2="488.34" stroke="#000" stroke-width="0.6" />
<line x1="278.70" y1="485.37" x2="281.30" y2="485.37" stroke="#000" stroke-width="0.6" />
<line x1="279.90" y1="482.40" x2="281.30" y2="482.40" stroke="#000" stroke-width="0.6" />
<line x1="279.90" y1="479.42" x2="281.30" y2="479.42" stroke="#000" stroke-width="0.6" />
<line x1="279.90" y1="476.45" x2="281.30" y2="476.45" stroke="#000" stroke-width="0.6" />
<line x1="279.90" y1="473.47" x2="281.30" y2="473.47" stroke="#000" stroke-width="0.6" />
<line x1="278.70" y1="470.50" x2="281.30" y2="470.50" stroke="#000" stroke-width="0.6" />
<text x="275.40" y="622.20" font-size="8.4" text-anchor="end" stroke="#111" stroke-width="0.12" fill="#111" >0</text>
<text x="275.40" y="607.33" font-size="8.4" text-anchor="end" stroke="#111" stroke-width="0.12" fill="#111" >10</text>
<text x="275.40" y="592.46" font-size="8.4" text-anchor="end" stroke="#111" stroke-width="0.12" fill="#111" >20</text>
<text x="275.40" y="577.59" font-size="8.4" text-anchor="end" stroke="#111" stroke-width="0.12" fill="#111" >30</text>
<text x="275.40" y="562.72" font-size="8.4" text-anchor="end" stroke="#111" stroke-width="0.12" fill="#111" >40</text>
<text x="275.40" y="547.85" font-size="8.4" text-anchor="end" stroke="#111" stroke-width="0.12" fill="#111" >50</text>
<text x="275.40" y="532.98" font-size="8.4" text-anchor="end" stroke="#111" stroke-width="0.12" fill="#111" >60</text>
<text x="275.40" y="518.11" font-size="8.4" text-anchor="end" stroke="#111" stroke-width="0.12" fill="#111" >70</text>
<text x="275.40" y="503.24" font-size="8.4" text-anchor="end" stroke="#111" stroke-width="0.12" fill="#111" >80</text>
<text x="275.40" y="488.37" font-size="8.4" text-anchor="end" stroke="#111" stroke-width="0.12" fill="#111" >90</text>
<text x="275.40" y="473.50" font-size="8.4" text-anchor="end" stroke="#111" stroke-width="0.12" fill="#111" >100</text>
<line x1="281.30" y1="619.50" x2="281.30" y2="622.10" stroke="#000" stroke-width="0.6" />
<line x1="286.88" y1="619.50" x2="286.88" y2="620.90" stroke="#000" stroke-width="0.6" />
<line x1="292.46" y1="619.50" x2="292.46" y2="620.90" stroke="#000" stroke-width="0.6" />
<line x1="298.04" y1="619.50" x2="298.04" y2="620.90" stroke="#000" stroke-width="0.6" />
<line x1="303.62" y1="619.50" x2="303.62" y2="620.90" stroke="#000" stroke-width="0.6" />
<line x1="309.20" y1="619.50" x2="309.20" y2="622.10" stroke="#000" stroke-width="0.6" />
<line x1="314.78" y1="619.50" x2="314.78" y2="620.90" stroke="#000" stroke-width="0.6" />
<line x1="320.36" y1="619.50" x2="320.36" y2="620.90" stroke="#000" stroke-width="0.6" />
<line x1="325.94" y1="619.50" x2="325.94" y2="620.90" stroke="#000" stroke-width="0.6" />
<line x1="331.52" y1="619.50" x2="331.52" y2="620.90" stroke="#000" stroke-width="0.6" />
<line x1="337.10" y1="619.50" x2="337.10" y2="622.10" stroke="#000" stroke-width="0.6" />
<line x1="342.68" y1="619.50" x2="342.68" y2="620.90" stroke="#000" stroke-width="0.6" />
<line x1="348.26" y1="619.50" x2="348.26" y2="620.90" stroke="#000" stroke-width="0.6" />
<line x1="353.84" y1="619.50" x2="353.84" y2="620.90" stroke="#000" stroke-width="0.6" />
<line x1="359.42" y1="619.50" x2="359.42" y2="620.90" stroke="#000" stroke-width="0.6" />
<line x1="365.00" y1="619.50" x2="365.00" y2="622.10" stroke="#000" stroke-width="0.6" />
<line x1="370.58" y1="619.50" x2="370.58" y2="620.90" stroke="#000" stroke-width="0.6" />
<line x1="376.16" y1="619.50" x2="376.16" y2="620.90" stroke="#000" stroke-width="0.6" />
<line x1="381.74" y1="619.50" x2="381.74" y2="620.90" stroke="#000" stroke-width="0.6" />
<line x1="387.32" y1="619.50" x2="387.32" y2="620.90" stroke="#000" stroke-width="0.6" />
<line x1="392.90" y1="619.50" x2="392.90" y2="622.10" stroke="#000" stroke-width="0.6" />
<line x1="398.48" y1="619.50" x2="398.48" y2="620.90" stroke="#000" stroke-width="0.6" />
<line x1="404.06" y1="619.50" x2="404.06" y2="620.90" stroke="#000" stroke-width="0.6" />
<line x1="409.64" y1="619.50" x2="409.64" y2="620.90" stroke="#000" stroke-width="0.6" />
<line x1="415.22" y1="619.50" x2="415.22" y2="620.90" stroke="#000" stroke-width="0.6" />
<line x1="420.80" y1="619.50" x2="420.80" y2="622.10" stroke="#000" stroke-width="0.6" />
<line x1="426.38" y1="619.50" x2="426.38" y2="620.90" stroke="#000" stroke-width="0.6" />
<line x1="431.96" y1="619.50" x2="431.96" y2="620.90" stroke="#000" stroke-width="0.6" />
<line x1="437.54" y1="619.50" x2="437.54" y2="620.90" stroke="#000" stroke-width="0.6" />
<line x1="443.12" y1="619.50" x2="443.12" y2="620.90" stroke="#000" stroke-width="0.6" />
<line x1="448.70" y1="619.50" x2="448.70" y2="622.10" stroke="#000" stroke-width="0.6" />
<line x1="454.28" y1="619.50" x2="454.28" y2="620.90" stroke="#000" stroke-width="0.6" />
<line x1="459.86" y1="619.50" x2="459.86" y2="620.90" stroke="#000" stroke-width="0.6" />
<line x1="465.44" y1="619.50" x2="465.44" y2="620.90" stroke="#000" stroke-width="0.6" />
<line x1="471.02" y1="619.50" x2="471.02" y2="620.90" stroke="#000" stroke-width="0.6" />
<line x1="476.60" y1="619.50" x2="476.60" y2="622.10" stroke="#000" stroke-width="0.6" />
<text x="281.30" y="631.70" font-size="8.4" text-anchor="middle" stroke="#111" stroke-width="0.12" fill="#111" >0</text>
<text x="309.20" y="631.70" font-size="8.4" text-anchor="middle" stroke="#111" stroke-width="0.12" fill="#111" >20</text>
<text x="309.20" y="641.50" font-size="8.4" text-anchor="middle" stroke="#111" stroke-width="0.12" fill="#111" >2,66</text>
<text x="337.10" y="631.70" font-size="8.4" text-anchor="middle" stroke="#111" stroke-width="0.12" fill="#111" >40</text>
<text x="337.10" y="641.50" font-size="8.4" text-anchor="middle" stroke="#111" stroke-width="0.12" fill="#111" >5,33</text>
<text x="365.00" y="631.70" font-size="8.4" text-anchor="middle" stroke="#111" stroke-width="0.12" fill="#111" >60</text>
<text x="365.00" y="641.50" font-size="8.4" text-anchor="middle" stroke="#111" stroke-width="0.12" fill="#111" >8,00</text>
<text x="392.90" y="631.70" font-size="8.4" text-anchor="middle" stroke="#111" stroke-width="0.12" fill="#111" >80</text>
<text x="392.90" y="641.50" font-size="8.4" text-anchor="middle" stroke="#111" stroke-width="0.12" fill="#111" >10,7</text>
<text x="420.80" y="631.70" font-size="8.4" text-anchor="middle" stroke="#111" stroke-width="0.12" fill="#111" >100</text>
<text x="420.80" y="641.50" font-size="8.4" text-anchor="middle" stroke="#111" stroke-width="0.12" fill="#111" >13,3</text>
<text x="448.70" y="631.70" font-size="8.4" text-anchor="middle" stroke="#111" stroke-width="0.12" fill="#111" >120</text>
<text x="448.70" y="641.50" font-size="8.4" text-anchor="middle" stroke="#111" stroke-width="0.12" fill="#111" >16,0</text>
<text x="476.60" y="631.70" font-size="8.4" text-anchor="middle" stroke="#111" stroke-width="0.12" fill="#111" >140</text>
<text x="476.60" y="641.50" font-size="8.4" text-anchor="middle" stroke="#111" stroke-width="0.12" fill="#111" >18,7</text>
<text x="254.30" y="542.80" font-size="7.8" text-anchor="middle" stroke="#111" stroke-width="0.25" fill="#111" textLength="57.6" lengthAdjust="spacingAndGlyphs" transform="rotate(-90 254.30 542.80)" >Oxyhemoglobin (%)</text>
<text x="445.00" y="612.40" font-size="7.8" text-anchor="middle" stroke="#222" stroke-width="0.12" fill="#222" textLength="42" lengthAdjust="spacingAndGlyphs" >cRBC G-Rex</text>
<g fill="#111" stroke="#111" stroke-width="0.25" font-size="8.2"><text x="356.00" y="655.2" textLength="9.2" lengthAdjust="spacingAndGlyphs">p 0</text><text x="366.40" y="657.6" font-size="4.6" stroke-width="0.15">2</text><text x="370.40" y="655.2" textLength="31.4" lengthAdjust="spacingAndGlyphs">(Torr; kPa)</text></g>
<polyline points="289.25,619.20 289.95,618.33 290.65,617.38 291.34,616.37 292.04,615.30 292.74,614.17 293.44,612.99 294.13,611.75 294.83,610.47 295.53,609.14 296.23,607.77 296.92,606.30 297.62,604.70 298.32,603.01 299.02,601.24 299.71,599.41 300.41,597.54 301.11,595.66 301.81,593.78 302.50,591.92 303.20,590.11 303.90,588.34 304.60,586.54 305.29,584.74 305.99,582.93 306.69,581.12 307.39,579.31 308.08,577.51 308.78,575.73 309.48,573.97 310.18,572.24 310.87,570.53 311.57,568.87 312.27,567.24 312.97,565.64 313.66,564.05 314.36,562.47 315.06,560.90 315.76,559.31 316.45,557.72 317.15,556.10 317.85,554.44 318.55,552.74 319.24,550.96 319.94,549.13 320.64,547.29 321.34,545.46 322.03,543.67 322.73,541.97 323.43,540.39 324.13,538.91 324.82,537.49 325.52,536.12 326.22,534.79 326.92,533.50 327.61,532.23 328.31,530.98 329.01,529.74 329.71,528.49 330.40,527.24 331.10,525.99 331.80,524.75 332.50,523.51 333.19,522.30 333.89,521.11 334.59,519.94 335.29,518.82 335.98,517.73 336.68,516.69 337.38,515.68 338.08,514.69 338.77,513.72 339.47,512.78 340.17,511.85 340.87,510.95 341.56,510.07 342.26,509.22 342.96,508.39 343.66,507.58 344.35,506.79 345.05,506.03 345.75,505.30 346.45,504.60 347.14,503.91 347.84,503.25 348.54,502.60 349.24,501.96 349.93,501.33 350.63,500.71 351.33,500.08 352.03,499.44 352.72,498.81 353.42,498.19 354.12,497.60 354.82,497.05 355.51,496.53 356.21,496.08 356.91,495.67 357.61,495.32 358.30,494.99 359.00,494.68 359.70,494.38 360.40,494.07 361.09,493.75 361.79,493.40 362.49,493.01 363.19,492.59 363.88,492.13 364.58,491.65 365.28,491.15 365.98,490.65 366.67,490.15 367.37,489.67 368.07,489.21 368.77,488.78 369.46,488.39 370.16,488.05 370.86,487.74 371.56,487.44 372.25,487.16 372.95,486.88 373.65,486.62 374.35,486.36 375.04,486.11 375.74,485.87 376.44,485.64 377.14,485.41 377.83,485.19 378.53,484.98 379.23,484.77 379.93,484.57 380.62,484.37 381.32,484.18 382.02,483.99 382.72,483.80 383.41,483.61 384.11,483.43 384.81,483.25 385.51,483.07 386.20,482.90 386.90,482.72 387.60,482.55 388.30,482.38 388.99,482.21 389.69,482.04 390.39,481.88 391.09,481.72 391.78,481.56 392.48,481.41 393.18,481.26 393.88,481.12 394.57,480.97 395.27,480.84 395.97,480.71 396.67,480.58 397.36,480.45 398.06,480.34 398.76,480.22 399.46,480.12 400.15,480.02 400.85,479.92 401.55,479.82 402.25,479.73 402.94,479.64 403.64,479.55 404.34,479.46 405.04,479.37 405.73,479.29 406.43,479.20 407.13,479.12 407.83,479.04 408.52,478.96 409.22,478.88 409.92,478.80 410.62,478.73 411.31,478.65 412.01,478.58 412.71,478.50 413.41,478.43 414.10,478.36 414.80,478.29 415.50,478.23 416.20,478.16 416.89,478.09 417.59,478.03 418.29,477.96 418.99,477.90 419.68,477.84 420.38,477.78 421.08,477.72 421.78,477.66 422.47,477.60 423.17,477.54 423.87,477.48 424.57,477.43 425.26,477.37 425.96,477.31 426.66,477.26 427.36,477.20 428.05,477.15 428.75,477.09 429.45,477.04 430.15,476.99 430.84,476.93 431.54,476.88 432.24,476.83 432.94,476.78 433.63,476.72 434.33,476.67 435.03,476.62 435.73,476.57 436.42,476.52 437.12,476.47 437.82,476.42 438.52,476.37 439.21,476.32 439.91,476.27 440.61,476.22 441.31,476.17 442.00,476.12 442.70,476.07 443.40,476.02 444.10,475.97 444.79,475.93 445.49,475.88 446.19,475.83 446.89,475.78 447.58,475.74 448.28,475.69 448.98,475.65 449.68,475.60 450.37,475.56 451.07,475.51 451.77,475.47 452.47,475.42 453.16,475.38 453.86,475.34 454.56,475.29 455.26,475.25 455.95,475.21 456.65,475.17 457.35,475.13 458.05,475.09 458.74,475.05 459.44,475.01 460.14,474.97 460.84,474.93 461.53,474.89 462.23,474.86 462.93,474.82 463.63,474.78 464.32,474.75 465.02,474.71 465.72,474.68 466.42,474.64 467.11,474.61 467.81,474.57 468.51,474.54 469.21,474.51 469.90,474.48 470.60,474.45 471.30,474.42 472.00,474.39 472.69,474.36 473.39,474.33 474.09,474.30 474.79,474.28 475.48,474.25 476.18,474.22" fill="none" stroke="#b8142f" stroke-width="1.1" stroke-linejoin="round" />
<polyline points="286.18,616.97 286.88,616.44 287.58,615.83 288.28,615.17 288.97,614.44 289.67,613.65 290.37,612.80 291.06,611.91 291.76,610.97 292.46,609.98 293.16,608.96 293.86,607.90 294.55,606.82 295.25,605.70 295.95,604.56 296.65,603.36 297.34,602.02 298.04,600.56 298.74,599.01 299.44,597.39 300.13,595.71 300.83,594.01 301.53,592.30 302.23,590.60 302.92,588.94 303.62,587.33 304.32,585.73 305.01,584.12 305.71,582.49 306.41,580.87 307.11,579.24 307.81,577.61 308.50,575.99 309.20,574.38 309.90,572.78 310.60,571.19 311.29,569.61 311.99,568.04 312.69,566.48 313.38,564.92 314.08,563.36 314.78,561.82 315.48,560.28 316.18,558.75 316.87,557.23 317.57,555.72 318.27,554.22 318.97,552.71 319.66,551.21 320.36,549.71 321.06,548.22 321.75,546.74 322.45,545.27 323.15,543.83 323.85,542.42 324.55,541.03 325.24,539.67 325.94,538.34 326.64,537.03 327.34,535.72 328.03,534.44 328.73,533.17 329.43,531.93 330.12,530.70 330.82,529.50 331.52,528.32 332.22,527.17 332.92,526.04 333.61,524.94 334.31,523.85 335.01,522.79 335.71,521.75 336.40,520.72 337.10,519.71 337.80,518.71 338.50,517.73 339.19,516.76 339.89,515.80 340.59,514.86 341.29,513.92 341.98,512.99 342.68,512.07 343.38,511.15 344.07,510.25 344.77,509.35 345.47,508.47 346.17,507.59 346.87,506.73 347.56,505.88 348.26,505.05 348.96,504.23 349.66,503.42 350.35,502.63 351.05,501.85 351.75,501.07 352.44,500.30 353.14,499.55 353.84,498.80 354.54,498.06 355.24,497.35 355.93,496.64 356.63,495.96 357.33,495.30 358.02,494.66 358.72,494.05 359.42,493.44 360.12,492.85 360.81,492.26 361.51,491.68 362.21,491.12 362.91,490.56 363.61,490.01 364.30,489.48 365.00,488.95 365.70,488.44 366.39,487.95 367.09,487.46 367.79,487.00 368.49,486.54 369.19,486.10 369.88,485.68 370.58,485.27 371.28,484.87 371.98,484.47 372.67,484.07 373.37,483.68 374.07,483.29 374.76,482.91 375.46,482.54 376.16,482.17 376.86,481.82 377.56,481.47 378.25,481.13 378.95,480.81 379.65,480.50 380.35,480.20 381.04,479.91 381.74,479.64 382.44,479.38 383.13,479.14 383.83,478.92 384.53,478.72 385.23,478.53 385.93,478.35 386.62,478.17 387.32,478.00 388.02,477.83 388.72,477.68 389.41,477.52 390.11,477.38 390.81,477.23 391.50,477.10 392.20,476.96 392.90,476.83 393.60,476.71 394.30,476.59 394.99,476.47 395.69,476.36 396.39,476.25 397.09,476.14 397.78,476.04 398.48,475.94 399.18,475.84 399.88,475.74 400.57,475.65 401.27,475.55 401.97,475.46 402.67,475.37 403.36,475.28 404.06,475.19 404.76,475.10 405.46,475.01 406.15,474.93 406.85,474.84 407.55,474.76 408.25,474.67 408.94,474.59 409.64,474.51 410.34,474.43 411.04,474.35 411.73,474.27 412.43,474.19 413.13,474.12 413.83,474.04 414.52,473.97 415.22,473.89 415.92,473.82 416.62,473.75 417.31,473.68 418.01,473.62 418.71,473.55 419.40,473.48 420.10,473.42 420.80,473.35 421.50,473.29 422.20,473.23 422.89,473.17 423.59,473.11 424.29,473.06 424.99,473.00 425.68,472.95 426.38,472.89 427.08,472.84 427.77,472.79 428.47,472.74 429.17,472.69 429.87,472.65 430.57,472.60 431.26,472.56 431.96,472.51 432.66,472.47 433.36,472.43 434.05,472.39 434.75,472.36 435.45,472.32 436.14,472.28 436.84,472.24 437.54,472.20 438.24,472.16 438.94,472.12 439.63,472.09 440.33,472.05 441.03,472.01 441.73,471.97 442.42,471.94 443.12,471.90 443.82,471.86 444.51,471.83 445.21,471.79 445.91,471.75 446.61,471.72 447.31,471.68 448.00,471.65 448.70,471.62 449.40,471.58 450.10,471.55 450.79,471.52 451.49,471.48 452.19,471.45 452.88,471.42 453.58,471.39 454.28,471.36 454.98,471.33 455.68,471.30 456.37,471.27 457.07,471.24 457.77,471.22 458.47,471.19 459.16,471.17 459.86,471.14 460.56,471.12 461.25,471.09 461.95,471.07 462.65,471.05 463.35,471.03 464.05,471.01 464.74,470.99 465.44,470.97 466.14,470.95 466.84,470.93 467.53,470.92 468.23,470.90 468.93,470.89 469.62,470.87 470.32,470.86 471.02,470.85 471.72,470.84 472.42,470.83 473.11,470.82 473.81,470.81 474.51,470.81 475.21,470.80 475.90,470.80" fill="none" stroke="#6bb33a" stroke-width="1.05" stroke-linejoin="round" />
<polyline points="284.79,614.74 285.49,615.72 286.18,616.23 286.88,616.12 287.58,615.82 288.28,615.35 288.97,614.72 289.67,613.94 290.37,613.05 291.06,612.06 291.76,610.98 292.46,609.84 293.16,608.65 293.86,607.44 294.55,606.21 295.25,605.00 295.95,603.82 296.65,602.62 297.34,601.28 298.04,599.82 298.74,598.27 299.44,596.64 300.13,594.97 300.83,593.26 301.53,591.55 302.23,589.86 302.92,588.20 303.62,586.59 304.32,584.98 305.01,583.35 305.71,581.71 306.41,580.06 307.11,578.41 307.81,576.78 308.50,575.15 309.20,573.55 309.90,571.98 310.60,570.43 311.29,568.93 311.99,567.45 312.69,566.00 313.38,564.57 314.08,563.15 314.78,561.75 315.48,560.34 316.18,558.94 316.87,557.53 317.57,556.11 318.27,554.67 318.97,553.21 319.66,551.73 320.36,550.23 321.06,548.73 321.75,547.24 322.45,545.76 323.15,544.30 323.85,542.87 324.55,541.47 325.24,540.12 325.94,538.80 326.64,537.49 327.34,536.20 328.03,534.93 328.73,533.67 329.43,532.44 330.12,531.23 330.82,530.04 331.52,528.88 332.22,527.74 332.92,526.63 333.61,525.55 334.31,524.49 335.01,523.45 335.71,522.44 336.40,521.44 337.10,520.46 337.80,519.50 338.50,518.55 339.19,517.60 339.89,516.67 340.59,515.73 341.29,514.81 341.98,513.88 342.68,512.95 343.38,512.03 344.07,511.10 344.77,510.18 345.47,509.26 346.17,508.35 346.87,507.45 347.56,506.57 348.26,505.70 348.96,504.85 349.66,504.02 350.35,503.22 351.05,502.44 351.75,501.68 352.44,500.92 353.14,500.18 353.84,499.46 354.54,498.75 355.24,498.05 355.93,497.37 356.63,496.70 357.33,496.05 358.02,495.41 358.72,494.79 359.42,494.17 360.12,493.55 360.81,492.93 361.51,492.32 362.21,491.71 362.91,491.12 363.61,490.53 364.30,489.96 365.00,489.39 365.70,488.85 366.39,488.32 367.09,487.81 367.79,487.32 368.49,486.85 369.19,486.40 369.88,485.98 370.58,485.58 371.28,485.19 371.98,484.81 372.67,484.43 373.37,484.06 374.07,483.71 374.76,483.35 375.46,483.01 376.16,482.68 376.86,482.36 377.56,482.04 378.25,481.74 378.95,481.44 379.65,481.16 380.35,480.88 381.04,480.62 381.74,480.36 382.44,480.12 383.13,479.89 383.83,479.67 384.53,479.46 385.23,479.26 385.93,479.07 386.62,478.88 387.32,478.70 388.02,478.53 388.72,478.36 389.41,478.19 390.11,478.03 390.81,477.87 391.50,477.72 392.20,477.58 392.90,477.43 393.60,477.29 394.30,477.16 394.99,477.03 395.69,476.90 396.39,476.77 397.09,476.65 397.78,476.53 398.48,476.42 399.18,476.30 399.88,476.19 400.57,476.09 401.27,475.98 401.97,475.87 402.67,475.76 403.36,475.65 404.06,475.55 404.76,475.44 405.46,475.34 406.15,475.23 406.85,475.13 407.55,475.02 408.25,474.92 408.94,474.82 409.64,474.72 410.34,474.62 411.04,474.52 411.73,474.42 412.43,474.33 413.13,474.23 413.83,474.14 414.52,474.05 415.22,473.96 415.92,473.87 416.62,473.78 417.31,473.69 418.01,473.61 418.71,473.53 419.40,473.45 420.10,473.37 420.80,473.29 421.50,473.21 422.20,473.14 422.89,473.07 423.59,473.00 424.29,472.93 424.99,472.87 425.68,472.80 426.38,472.74 427.08,472.69 427.77,472.63 428.47,472.58 429.17,472.53 429.87,472.48 430.57,472.44 431.26,472.39 431.96,472.35 432.66,472.32 433.36,472.28 434.05,472.25 434.75,472.22 435.45,472.19 436.14,472.16 436.84,472.13 437.54,472.10 438.24,472.07 438.94,472.04 439.63,472.01 440.33,471.98 441.03,471.95 441.73,471.92 442.42,471.89 443.12,471.86 443.82,471.83 444.51,471.80 445.21,471.78 445.91,471.75 446.61,471.72 447.31,471.70 448.00,471.67 448.70,471.65 449.40,471.62 450.10,471.60 450.79,471.57 451.49,471.55 452.19,471.53 452.88,471.50 453.58,471.48 454.28,471.46 454.98,471.44 455.68,471.42 456.37,471.40 457.07,471.38 457.77,471.36 458.47,471.34 459.16,471.32 459.86,471.31 460.56,471.29 461.25,471.27 461.95,471.26 462.65,471.24 463.35,471.23 464.05,471.22 464.74,471.20 465.44,471.19 466.14,471.18 466.84,471.17 467.53,471.16 468.23,471.15 468.93,471.14 469.62,471.13 470.32,471.12 471.02,471.12 471.72,471.11 472.42,471.11 473.11,471.10 473.81,471.10 474.51,471.10 475.21,471.10 475.90,471.09" fill="none" stroke="#5ab0ea" stroke-width="1.05" stroke-linejoin="round" />
<polyline points="288.55,619.20 289.25,618.42 289.95,617.56 290.65,616.63 291.34,615.63 292.04,614.58 292.74,613.46 293.44,612.29 294.13,611.08 294.83,609.82 295.53,608.52 296.23,607.18 296.92,605.73 297.62,604.14 298.32,602.45 299.02,600.67 299.71,598.83 300.41,596.95 301.11,595.06 301.81,593.17 302.50,591.31 303.20,589.51 303.90,587.76 304.60,586.00 305.29,584.25 305.99,582.49 306.69,580.73 307.39,578.98 308.08,577.23 308.78,575.50 309.48,573.78 310.18,572.08 310.87,570.39 311.57,568.74 312.27,567.12 312.97,565.54 313.66,563.96 314.36,562.39 315.06,560.81 315.76,559.21 316.45,557.58 317.15,555.91 317.85,554.18 318.55,552.38 319.24,550.46 319.94,548.47 320.64,546.45 321.34,544.45 322.03,542.51 322.73,540.69 323.43,538.96 324.13,537.28 324.82,535.64 325.52,534.04 326.22,532.47 326.92,530.93 327.61,529.41 328.31,527.90 329.01,526.40 329.71,524.90 330.40,523.40 331.10,521.91 331.80,520.45 332.50,519.03 333.19,517.66 333.89,516.36 334.59,515.13 335.29,513.98 335.98,512.88 336.68,511.81 337.38,510.78 338.08,509.78 338.77,508.82 339.47,507.89 340.17,506.98 340.87,506.10 341.56,505.25 342.26,504.42 342.96,503.61 343.66,502.83 344.35,502.07 345.05,501.34 345.75,500.62 346.45,499.92 347.14,499.24 347.84,498.57 348.54,497.90 349.24,497.25 349.93,496.60 350.63,495.95 351.33,495.30 352.03,494.64 352.72,494.00 353.42,493.35 354.12,492.72 354.82,492.10 355.51,491.50 356.21,490.92 356.91,490.36 357.61,489.83 358.30,489.33 359.00,488.86 359.70,488.41 360.40,487.97 361.09,487.54 361.79,487.13 362.49,486.73 363.19,486.34 363.88,485.97 364.58,485.60 365.28,485.25 365.98,484.90 366.67,484.56 367.37,484.23 368.07,483.90 368.77,483.58 369.46,483.25 370.16,482.92 370.86,482.59 371.56,482.27 372.25,481.94 372.95,481.62 373.65,481.30 374.35,480.99 375.04,480.68 375.74,480.38 376.44,480.09 377.14,479.80 377.83,479.53 378.53,479.26 379.23,479.01 379.93,478.76 380.62,478.53 381.32,478.31 382.02,478.11 382.72,477.92 383.41,477.75 384.11,477.60 384.81,477.46 385.51,477.34 386.20,477.22 386.90,477.10 387.60,476.99 388.30,476.89 388.99,476.79 389.69,476.69 390.39,476.60 391.09,476.52 391.78,476.43 392.48,476.35 393.18,476.27 393.88,476.20 394.57,476.12 395.27,476.05 395.97,475.98 396.67,475.91 397.36,475.84 398.06,475.77 398.76,475.70 399.46,475.63 400.15,475.56 400.85,475.48 401.55,475.41 402.25,475.34 402.94,475.27 403.64,475.19 404.34,475.12 405.04,475.05 405.73,474.98 406.43,474.90 407.13,474.83 407.83,474.76 408.52,474.69 409.22,474.62 409.92,474.55 410.62,474.48 411.31,474.41 412.01,474.34 412.71,474.27 413.41,474.20 414.10,474.14 414.80,474.07 415.50,474.01 416.20,473.94 416.89,473.88 417.59,473.81 418.29,473.75 418.99,473.69 419.68,473.63 420.38,473.57 421.08,473.52 421.78,473.46 422.47,473.40 423.17,473.35 423.87,473.30 424.57,473.25 425.26,473.20 425.96,473.15 426.66,473.10 427.36,473.05 428.05,473.01 428.75,472.97 429.45,472.93 430.15,472.89 430.84,472.85 431.54,472.81 432.24,472.78 432.94,472.75 433.63,472.72 434.33,472.69 435.03,472.66 435.73,472.63 436.42,472.60 437.12,472.57 437.82,472.54 438.52,472.51 439.21,472.48 439.91,472.45 440.61,472.43 441.31,472.40 442.00,472.37 442.70,472.34 443.40,472.31 444.10,472.29 444.79,472.26 445.49,472.23 446.19,472.21 446.89,472.18 447.58,472.15 448.28,472.13 448.98,472.10 449.68,472.08 450.37,472.05 451.07,472.03 451.77,472.01 452.47,471.98 453.16,471.96 453.86,471.94 454.56,471.91 455.26,471.89 455.95,471.87 456.65,471.85 457.35,471.83 458.05,471.81 458.74,471.79 459.44,471.78 460.14,471.76 460.84,471.74 461.53,471.72 462.23,471.71 462.93,471.69 463.63,471.68 464.32,471.66 465.02,471.65 465.72,471.64 466.42,471.63 467.11,471.62 467.81,471.60 468.51,471.59 469.21,471.59 469.90,471.58 470.60,471.57 471.30,471.56 472.00,471.56 472.69,471.55 473.39,471.55 474.09,471.55 474.79,471.54 475.48,471.54 476.18,471.54" fill="none" stroke="#26468a" stroke-width="1.15" stroke-linejoin="round" />
</svg></div></body></html>
